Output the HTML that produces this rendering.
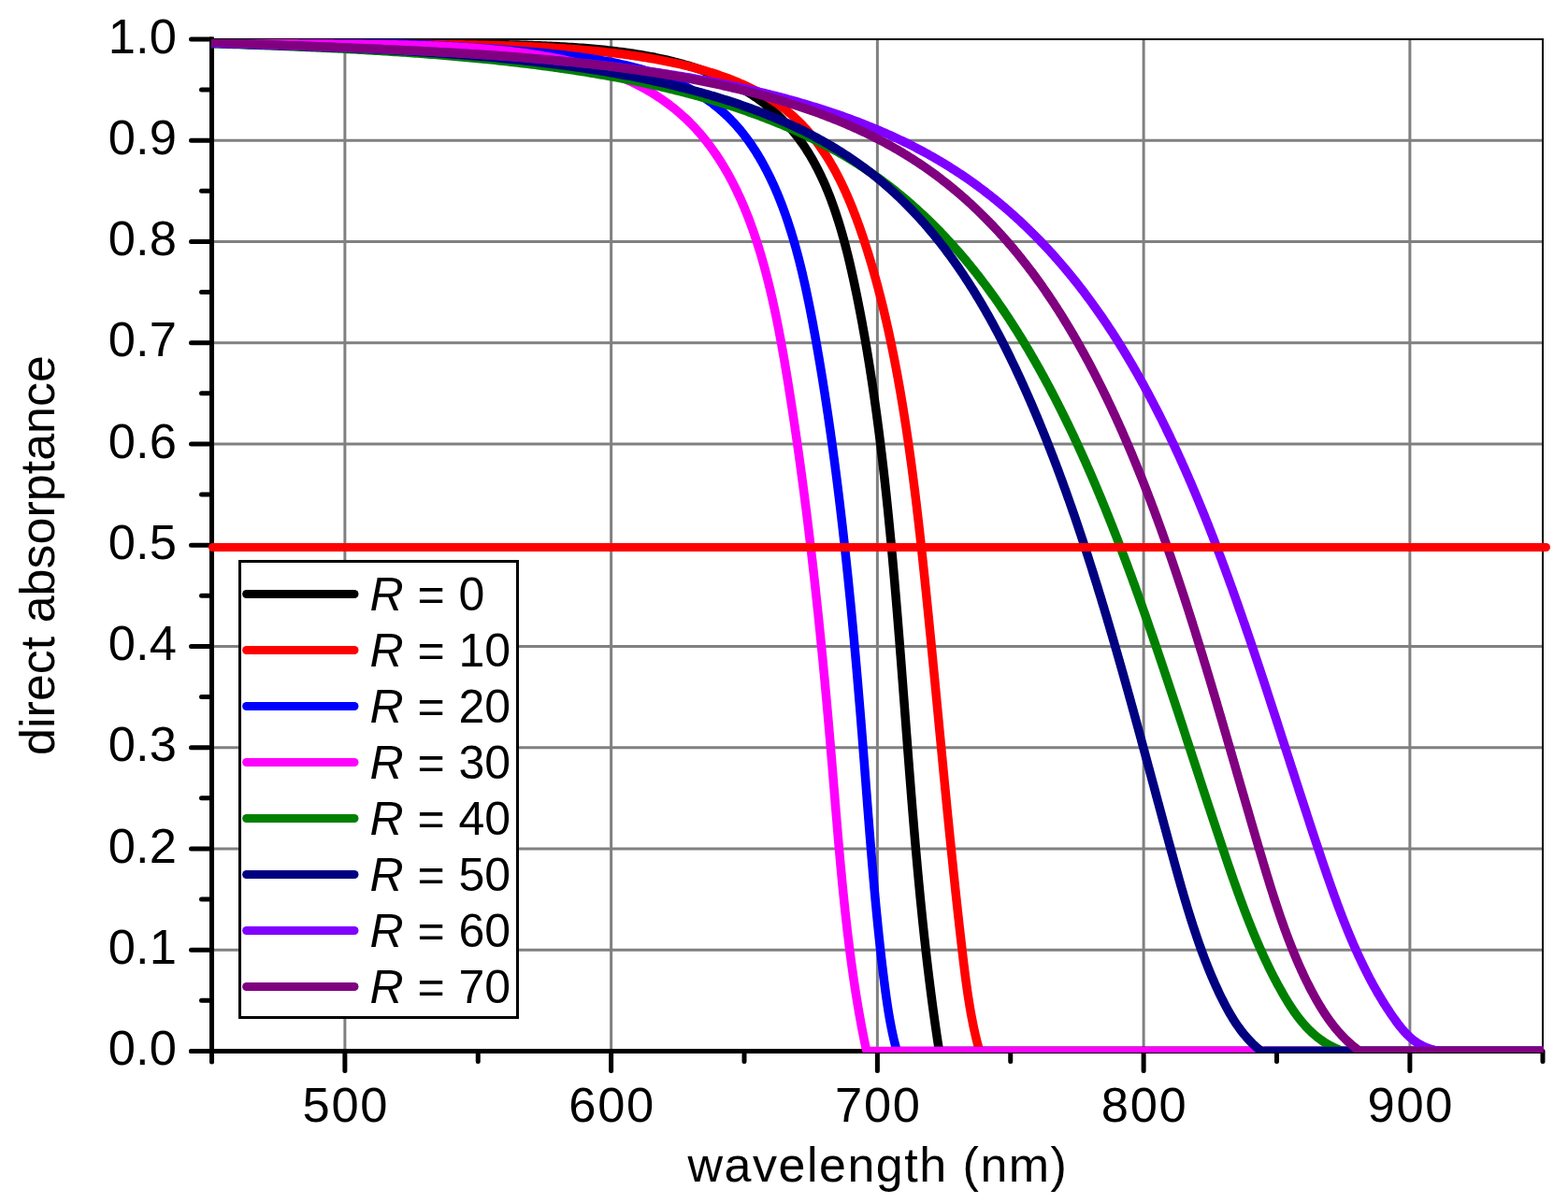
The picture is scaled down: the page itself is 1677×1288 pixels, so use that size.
<!DOCTYPE html><html><head><meta charset="utf-8"><style>html,body{margin:0;padding:0;background:#fff;}svg{display:block;}text{font-family:"Liberation Sans",Arial,sans-serif;fill:#000;}</style></head><body>
<svg width="1677" height="1288" viewBox="0 0 1677 1288">
<rect width="1677" height="1288" fill="#fff"/>
<path d="M368.88,43V1122M653.62,43V1122M938.38,43V1122M1223.12,43V1122M1507.88,43V1122M229,1016.16H1649M229,907.92H1649M229,799.68H1649M229,691.44H1649M229,583.20H1649M229,474.96H1649M229,366.72H1649M229,258.48H1649M229,150.24H1649" stroke="#808080" stroke-width="3" fill="none"/>
<path d="M226.5,42H1650V1127" stroke="#000" stroke-width="2" fill="none"/>
<path d="M226.5,39.5V1136M204.5,1124.5H1651" stroke="#000" stroke-width="5" fill="none"/>
<circle cx="226.5" cy="1136" r="2.5"/><circle cx="204.5" cy="1124.5" r="2.5"/>
<path d="M1650,1124.5V1135.5" stroke="#000" stroke-width="5" stroke-linecap="round" fill="none"/>
<path d="M204.5,1124.40H226.5M204.5,1016.16H226.5M204.5,907.92H226.5M204.5,799.68H226.5M204.5,691.44H226.5M204.5,583.20H226.5M204.5,474.96H226.5M204.5,366.72H226.5M204.5,258.48H226.5M204.5,150.24H226.5M204.5,42.00H226.5M215.5,1070.28H226.5M215.5,962.04H226.5M215.5,853.80H226.5M215.5,745.56H226.5M215.5,637.32H226.5M215.5,529.08H226.5M215.5,420.84H226.5M215.5,312.60H226.5M215.5,204.36H226.5M215.5,96.12H226.5M368.88,1124.5V1145.5M653.62,1124.5V1145.5M938.38,1124.5V1145.5M1223.12,1124.5V1145.5M1507.88,1124.5V1145.5M511.25,1124.5V1135.5M796.00,1124.5V1135.5M1080.75,1124.5V1135.5M1365.50,1124.5V1135.5" stroke="#000" stroke-width="5" fill="none" stroke-linecap="round"/>
<defs><clipPath id="pc"><rect x="226" y="42" width="1425" height="1084"/></clipPath></defs>
<g clip-path="url(#pc)" fill="none" stroke-width="9.5" stroke-linejoin="round" stroke-linecap="round">
<path d="M226.50,43.10L229.50,43.29L232.31,43.48L235.12,43.67L237.94,43.84L240.76,44.02L243.59,44.18L246.42,44.34L249.26,44.50L252.11,44.65L254.96,44.79L257.82,44.93L260.68,45.07L263.54,45.20L266.41,45.32L269.29,45.44L272.17,45.56L275.05,45.67L277.94,45.77L280.84,45.87L283.74,45.97L286.64,46.06L289.55,46.15L292.46,46.23L295.37,46.32L298.29,46.39L301.21,46.46L304.14,46.53L307.07,46.60L310.01,46.66L312.94,46.72L315.88,46.77L318.83,46.82L321.77,46.87L324.72,46.92L327.68,46.96L330.63,47.00L333.59,47.03L336.56,47.07L339.52,47.10L342.49,47.13L345.46,47.15L348.43,47.18L351.40,47.20L354.38,47.22L357.36,47.23L360.34,47.25L363.32,47.26L366.31,47.27L369.29,47.28L372.28,47.29L375.27,47.29L378.26,47.30L381.25,47.30L384.25,47.30L387.24,47.30L390.24,47.30L393.24,47.30L396.23,47.29L399.23,47.29L402.23,47.29L405.23,47.28L408.24,47.27L411.24,47.27L414.24,47.26L417.24,47.25L420.25,47.25L423.25,47.24L426.25,47.23L429.25,47.22L432.26,47.22L435.26,47.21L438.26,47.20L441.26,47.19L444.27,47.19L447.27,47.18L450.27,47.18L453.27,47.17L456.27,47.17L459.26,47.17L462.26,47.17L465.26,47.17L468.25,47.17L471.24,47.17L474.24,47.17L477.23,47.18L480.22,47.18L483.20,47.19L486.19,47.20L489.17,47.21L492.16,47.22L495.14,47.24L498.11,47.26L501.09,47.28L504.06,47.30L507.03,47.32L510.00,47.35L512.97,47.38L515.93,47.41L518.89,47.45L521.85,47.48L524.81,47.52L527.76,47.57L530.71,47.61L533.65,47.66L536.60,47.71L539.54,47.77L542.47,47.83L545.40,47.89L548.33,47.96L551.26,48.03L554.18,48.10L557.10,48.18L560.01,48.26L562.92,48.35L565.82,48.44L568.73,48.53L571.62,48.63L574.51,48.74L577.40,48.84L580.28,48.96L583.16,49.08L586.03,49.20L588.90,49.33L591.76,49.46L594.61,49.60L597.46,49.75L600.30,49.90L603.14,50.06L605.97,50.23L608.79,50.40L611.61,50.58L614.42,50.76L617.22,50.95L620.02,51.15L622.81,51.36L625.59,51.58L628.36,51.80L631.13,52.03L633.88,52.27L636.63,52.51L639.38,52.77L642.11,53.03L644.83,53.30L647.55,53.58L650.25,53.87L652.95,54.17L655.64,54.48L658.32,54.79L660.98,55.12L663.64,55.46L666.29,55.80L668.93,56.16L671.56,56.52L674.18,56.90L676.79,57.29L679.38,57.69L681.97,58.10L684.55,58.52L687.11,58.95L689.66,59.39L692.21,59.84L694.74,60.31L697.25,60.78L699.76,61.27L702.25,61.78L704.74,62.29L707.21,62.81L709.66,63.35L712.11,63.90L714.54,64.47L716.96,65.05L719.36,65.64L721.75,66.24L724.13,66.86L726.49,67.49L728.85,68.13L731.18,68.79L733.50,69.46L735.81,70.15L738.11,70.85L740.38,71.57L742.65,72.30L744.90,73.05L747.14,73.80L749.36,74.58L751.56,75.37L753.76,76.17L755.93,76.99L758.10,77.82L760.25,78.67L762.38,79.53L764.50,80.41L766.60,81.30L768.69,82.20L770.77,83.12L772.82,84.06L774.87,85.01L776.90,85.98L778.91,86.96L780.91,87.95L782.90,88.96L784.87,89.99L786.82,91.03L788.76,92.09L790.68,93.16L792.59,94.25L794.49,95.35L796.36,96.47L798.23,97.60L800.07,98.75L801.90,99.91L803.72,101.09L805.52,102.28L807.31,103.49L809.08,104.72L810.83,105.96L812.57,107.22L814.29,108.49L816.00,109.78L817.69,111.08L819.37,112.40L821.03,113.74L822.67,115.09L824.30,116.46L825.91,117.84L827.51,119.24L829.09,120.65L830.65,122.08L832.20,123.53L833.73,124.99L835.25,126.47L836.75,127.97L838.23,129.48L839.70,131.01L841.15,132.55L842.59,134.11L844.00,135.69L845.41,137.28L846.79,138.89L848.16,140.52L849.52,142.16L850.85,143.82L852.17,145.49L853.48,147.19L854.76,148.89L856.03,150.62L857.29,152.36L858.52,154.12L859.74,155.89L860.95,157.68L862.14,159.49L863.31,161.31L864.47,163.15L865.61,165.01L866.73,166.87L867.85,168.76L868.94,170.66L870.02,172.57L871.09,174.50L872.14,176.44L873.18,178.40L874.21,180.37L875.22,182.36L876.21,184.36L877.20,186.37L878.16,188.39L879.12,190.43L880.06,192.48L881.00,194.55L881.91,196.63L882.82,198.71L883.71,200.82L884.59,202.93L885.46,205.06L886.32,207.19L887.17,209.34L888.00,211.50L888.83,213.68L889.64,215.86L890.44,218.05L891.23,220.26L892.01,222.47L892.78,224.70L893.54,226.93L894.29,229.18L895.03,231.43L895.76,233.70L896.49,235.97L897.20,238.25L897.90,240.55L898.59,242.85L899.28,245.16L899.96,247.47L900.63,249.80L901.29,252.14L901.94,254.48L902.58,256.83L903.22,259.19L903.85,261.55L904.47,263.93L905.09,266.31L905.70,268.69L906.30,271.09L906.89,273.49L907.48,275.90L908.06,278.31L908.64,280.73L909.21,283.15L909.77,285.58L910.33,288.02L910.89,290.46L911.43,292.91L911.98,295.36L912.52,297.82L913.05,300.28L913.58,302.74L914.11,305.21L914.63,307.69L915.15,310.16L915.66,312.65L916.17,315.13L916.68,317.62L917.18,320.11L917.68,322.61L918.18,325.11L918.67,327.61L919.16,330.11L919.64,332.62L920.13,335.14L920.61,337.65L921.08,340.17L921.55,342.70L922.02,345.22L922.49,347.75L922.95,350.28L923.41,352.82L923.87,355.36L924.32,357.90L924.77,360.45L925.21,363.00L925.66,365.55L926.10,368.11L926.53,370.66L926.97,373.23L927.40,375.79L927.83,378.36L928.25,380.93L928.67,383.50L929.09,386.08L929.51,388.66L929.92,391.24L930.33,393.83L930.74,396.42L931.14,399.01L931.54,401.60L931.94,404.20L932.34,406.80L932.73,409.40L933.12,412.01L933.51,414.61L933.89,417.22L934.27,419.84L934.65,422.45L935.03,425.07L935.40,427.70L935.77,430.32L936.14,432.95L936.51,435.58L936.87,438.21L937.23,440.84L937.59,443.48L937.94,446.12L938.30,448.76L938.65,451.41L939.00,454.05L939.34,456.70L939.69,459.35L940.03,462.01L940.37,464.66L940.70,467.32L941.04,469.98L941.37,472.65L941.70,475.31L942.03,477.98L942.35,480.65L942.67,483.32L943.00,486.00L943.31,488.67L943.63,491.35L943.95,494.03L944.26,496.72L944.57,499.40L944.88,502.09L945.18,504.78L945.49,507.47L945.79,510.16L946.09,512.86L946.39,515.55L946.68,518.25L946.98,520.95L947.27,523.66L947.56,526.36L947.85,529.07L948.14,531.78L948.42,534.49L948.71,537.20L948.99,539.91L949.27,542.63L949.55,545.34L949.82,548.06L950.10,550.78L950.37,553.51L950.64,556.23L950.91,558.95L951.18,561.68L951.45,564.41L951.71,567.14L951.98,569.87L952.24,572.60L952.50,575.34L952.76,578.07L953.02,580.81L953.27,583.55L953.53,586.29L953.78,589.03L954.04,591.78L954.29,594.52L954.54,597.26L954.79,600.01L955.03,602.76L955.28,605.51L955.52,608.26L955.77,611.01L956.01,613.76L956.25,616.52L956.49,619.27L956.73,622.03L956.97,624.79L957.20,627.55L957.44,630.31L957.67,633.07L957.91,635.83L958.14,638.59L958.37,641.35L958.60,644.12L958.83,646.88L959.06,649.65L959.29,652.42L959.52,655.19L959.74,657.95L959.97,660.72L960.20,663.49L960.42,666.27L960.64,669.04L960.86,671.81L961.09,674.58L961.31,677.36L961.53,680.13L961.75,682.91L961.97,685.68L962.19,688.46L962.40,691.24L962.62,694.02L962.84,696.79L963.05,699.57L963.27,702.35L963.49,705.13L963.70,707.91L963.92,710.69L964.13,713.48L964.34,716.26L964.56,719.04L964.77,721.82L964.98,724.60L965.19,727.39L965.41,730.17L965.62,732.95L965.83,735.74L966.04,738.52L966.25,741.31L966.46,744.09L966.67,746.87L966.89,749.66L967.10,752.44L967.31,755.23L967.52,758.01L967.73,760.80L967.94,763.58L968.15,766.37L968.36,769.15L968.57,771.94L968.78,774.72L968.99,777.51L969.20,780.29L969.41,783.07L969.62,785.86L969.84,788.64L970.05,791.43L970.26,794.21L970.47,796.99L970.68,799.78L970.90,802.56L971.11,805.34L971.32,808.12L971.54,810.91L971.75,813.69L971.96,816.47L972.18,819.25L972.39,822.03L972.61,824.81L972.83,827.59L973.04,830.37L973.26,833.14L973.48,835.92L973.70,838.70L973.92,841.47L974.14,844.25L974.36,847.03L974.58,849.80L974.80,852.57L975.02,855.35L975.24,858.12L975.47,860.89L975.69,863.66L975.92,866.43L976.14,869.20L976.37,871.97L976.60,874.74L976.83,877.50L977.06,880.27L977.29,883.03L977.52,885.80L977.75,888.56L977.99,891.32L978.22,894.08L978.46,896.84L978.69,899.60L978.93,902.36L979.17,905.11L979.41,907.87L979.65,910.62L979.89,913.38L980.14,916.13L980.38,918.88L980.63,921.63L980.88,924.37L981.12,927.12L981.37,929.87L981.62,932.61L981.88,935.35L982.13,938.10L982.39,940.84L982.64,943.57L982.90,946.31L983.16,949.05L983.42,951.78L983.68,954.51L983.95,957.25L984.21,959.97L984.48,962.70L984.75,965.43L985.02,968.15L985.29,970.88L985.57,973.60L985.84,976.32L986.12,979.04L986.40,981.75L986.68,984.47L986.96,987.18L987.25,989.89L987.53,992.60L987.82,995.31L988.11,998.02L988.40,1000.72L988.69,1003.42L988.99,1006.12L989.29,1008.82L989.59,1011.52L989.89,1014.21L990.19,1016.90L990.50,1019.59L990.80,1022.28L991.11,1024.97L991.42,1027.65L991.74,1030.33L992.05,1033.01L992.37,1035.69L992.69,1038.36L993.01,1041.04L993.34,1043.71L993.66,1046.38L993.99,1049.04L994.32,1051.71L994.66,1054.37L994.99,1057.03L995.33,1059.68L995.67,1062.34L996.02,1064.99L996.36,1067.64L996.71,1070.29L997.06,1072.93L997.41,1075.58L997.77,1078.22L998.13,1080.85L998.49,1083.49L998.85,1086.12L999.22,1088.75L999.58,1091.38L999.96,1094.00L1000.33,1096.62L1000.71,1099.24L1001.08,1101.86L1001.47,1104.47L1001.85,1107.08L1002.24,1109.69L1002.63,1112.29L1003.02,1114.90L1003.42,1117.50L1003.82,1120.09L1004.22,1122.69L1005.50,1124.40L1020.00,1124.40L1660.00,1124.40" stroke="#000000"/>
<path d="M226.50,43.33L229.49,43.51L232.31,43.68L235.15,43.84L237.98,44.00L240.83,44.16L243.67,44.30L246.52,44.45L249.38,44.59L252.24,44.72L255.11,44.85L257.98,44.98L260.86,45.10L263.74,45.22L266.62,45.33L269.51,45.44L272.40,45.54L275.30,45.64L278.20,45.73L281.10,45.83L284.01,45.91L286.92,46.00L289.84,46.08L292.76,46.16L295.68,46.23L298.60,46.30L301.53,46.37L304.47,46.43L307.40,46.49L310.34,46.55L313.28,46.61L316.22,46.66L319.17,46.71L322.12,46.75L325.07,46.80L328.03,46.84L330.99,46.88L333.94,46.92L336.91,46.95L339.87,46.98L342.84,47.01L345.80,47.04L348.77,47.07L351.75,47.09L354.72,47.12L357.69,47.14L360.67,47.16L363.65,47.17L366.63,47.19L369.61,47.21L372.59,47.22L375.57,47.24L378.56,47.25L381.54,47.26L384.53,47.27L387.51,47.28L390.50,47.29L393.49,47.30L396.48,47.30L399.46,47.31L402.45,47.32L405.44,47.33L408.43,47.33L411.42,47.34L414.41,47.35L417.40,47.35L420.39,47.36L423.38,47.37L426.37,47.38L429.36,47.38L432.34,47.39L435.33,47.40L438.32,47.41L441.30,47.42L444.29,47.43L447.27,47.45L450.25,47.46L453.23,47.48L456.21,47.49L459.19,47.51L462.17,47.53L465.15,47.55L468.12,47.57L471.09,47.59L474.06,47.62L477.03,47.64L480.00,47.67L482.97,47.70L485.93,47.74L488.89,47.77L491.85,47.81L494.81,47.85L497.76,47.89L500.71,47.94L503.66,47.98L506.61,48.03L509.55,48.09L512.49,48.14L515.43,48.20L518.36,48.26L521.29,48.33L524.22,48.40L527.15,48.47L530.07,48.54L532.99,48.62L535.90,48.70L538.81,48.79L541.72,48.88L544.62,48.97L547.52,49.07L550.42,49.17L553.31,49.27L556.20,49.38L559.08,49.49L561.96,49.61L564.83,49.73L567.70,49.86L570.57,49.99L573.43,50.13L576.28,50.27L579.13,50.41L581.98,50.56L584.82,50.72L587.66,50.88L590.49,51.05L593.31,51.22L596.13,51.39L598.95,51.57L601.75,51.76L604.56,51.96L607.35,52.15L610.15,52.36L612.93,52.57L615.71,52.79L618.49,53.01L621.25,53.24L624.01,53.47L626.77,53.71L629.52,53.96L632.26,54.22L634.99,54.48L637.72,54.74L640.45,55.02L643.16,55.30L645.87,55.59L648.57,55.88L651.26,56.18L653.95,56.49L656.63,56.81L659.30,57.13L661.97,57.46L664.63,57.80L667.28,58.15L669.92,58.50L672.55,58.87L675.18,59.24L677.80,59.61L680.41,60.00L683.01,60.39L685.60,60.80L688.19,61.21L690.76,61.63L693.33,62.05L695.89,62.49L698.45,62.94L700.99,63.39L703.52,63.85L706.05,64.32L708.56,64.80L711.07,65.29L713.57,65.79L716.06,66.30L718.53,66.82L721.00,67.34L723.46,67.88L725.91,68.42L728.35,68.98L730.78,69.55L733.20,70.12L735.61,70.71L738.01,71.31L740.40,71.92L742.77,72.54L745.14,73.17L747.50,73.81L749.84,74.46L752.17,75.13L754.49,75.80L756.80,76.49L759.09,77.19L761.38,77.90L763.65,78.63L765.91,79.37L768.16,80.11L770.39,80.88L772.61,81.65L774.82,82.44L777.01,83.24L779.19,84.06L781.36,84.89L783.52,85.73L785.66,86.58L787.78,87.45L789.90,88.34L791.99,89.24L794.08,90.15L796.15,91.08L798.20,92.02L800.24,92.97L802.26,93.95L804.27,94.93L806.27,95.94L808.24,96.95L810.21,97.99L812.15,99.04L814.08,100.10L816.00,101.18L817.90,102.28L819.78,103.40L821.64,104.53L823.49,105.67L825.33,106.84L827.14,108.02L828.94,109.22L830.72,110.44L832.48,111.67L834.23,112.92L835.95,114.19L837.66,115.48L839.35,116.78L841.03,118.11L842.68,119.45L844.32,120.81L845.93,122.19L847.53,123.58L849.11,125.00L850.67,126.43L852.22,127.89L853.74,129.36L855.25,130.85L856.74,132.35L858.22,133.87L859.67,135.41L861.11,136.97L862.53,138.54L863.94,140.13L865.33,141.74L866.70,143.36L868.06,145.00L869.40,146.66L870.73,148.33L872.04,150.01L873.33,151.71L874.61,153.43L875.88,155.16L877.13,156.91L878.36,158.67L879.58,160.44L880.79,162.23L881.98,164.04L883.16,165.85L884.33,167.69L885.48,169.53L886.62,171.39L887.74,173.26L888.85,175.14L889.95,177.04L891.04,178.95L892.11,180.87L893.18,182.81L894.23,184.75L895.26,186.71L896.29,188.68L897.30,190.66L898.31,192.66L899.30,194.66L900.28,196.68L901.25,198.70L902.21,200.74L903.16,202.79L904.10,204.85L905.03,206.91L905.94,208.99L906.85,211.08L907.75,213.17L908.64,215.28L909.52,217.40L910.39,219.52L911.26,221.65L912.11,223.80L912.96,225.95L913.79,228.11L914.62,230.27L915.44,232.45L916.26,234.63L917.06,236.82L917.86,239.02L918.65,241.22L919.44,243.44L920.22,245.65L920.99,247.88L921.75,250.11L922.51,252.35L923.26,254.59L924.01,256.85L924.75,259.10L925.48,261.36L926.21,263.63L926.93,265.90L927.65,268.18L928.36,270.47L929.07,272.76L929.77,275.05L930.47,277.35L931.16,279.66L931.84,281.97L932.52,284.28L933.20,286.60L933.87,288.93L934.53,291.26L935.19,293.60L935.85,295.94L936.50,298.29L937.14,300.64L937.78,302.99L938.42,305.36L939.05,307.72L939.67,310.09L940.29,312.47L940.91,314.85L941.52,317.24L942.12,319.63L942.72,322.02L943.32,324.42L943.91,326.83L944.50,329.24L945.08,331.65L945.66,334.07L946.23,336.49L946.80,338.92L947.36,341.35L947.93,343.79L948.48,346.23L949.03,348.67L949.58,351.12L950.12,353.57L950.66,356.03L951.19,358.49L951.72,360.96L952.25,363.43L952.77,365.90L953.29,368.38L953.80,370.87L954.31,373.35L954.82,375.84L955.32,378.34L955.82,380.84L956.31,383.34L956.80,385.84L957.29,388.35L957.77,390.87L958.25,393.38L958.73,395.91L959.20,398.43L959.66,400.96L960.13,403.49L960.59,406.03L961.05,408.57L961.50,411.11L961.95,413.66L962.40,416.20L962.84,418.76L963.28,421.31L963.72,423.87L964.15,426.44L964.58,429.00L965.01,431.57L965.43,434.15L965.85,436.72L966.27,439.30L966.68,441.88L967.09,444.47L967.50,447.06L967.90,449.65L968.31,452.24L968.71,454.84L969.10,457.44L969.49,460.04L969.88,462.65L970.27,465.26L970.66,467.87L971.04,470.48L971.42,473.10L971.79,475.72L972.17,478.34L972.54,480.97L972.91,483.59L973.28,486.22L973.64,488.86L974.00,491.49L974.36,494.13L974.72,496.77L975.07,499.41L975.42,502.06L975.77,504.70L976.12,507.35L976.46,510.00L976.80,512.66L977.15,515.31L977.48,517.97L977.82,520.63L978.15,523.29L978.49,525.96L978.82,528.62L979.14,531.29L979.47,533.96L979.79,536.63L980.12,539.31L980.44,541.98L980.76,544.66L981.07,547.34L981.39,550.02L981.70,552.70L982.01,555.39L982.32,558.07L982.63,560.76L982.94,563.45L983.24,566.14L983.55,568.83L983.85,571.53L984.15,574.22L984.45,576.92L984.75,579.62L985.05,582.32L985.34,585.02L985.64,587.72L985.93,590.42L986.22,593.13L986.51,595.83L986.80,598.54L987.09,601.25L987.38,603.96L987.66,606.67L987.95,609.38L988.23,612.09L988.52,614.80L988.80,617.51L989.08,620.23L989.36,622.94L989.64,625.66L989.92,628.38L990.20,631.10L990.48,633.81L990.75,636.53L991.03,639.25L991.31,641.97L991.58,644.69L991.86,647.42L992.13,650.14L992.40,652.86L992.68,655.58L992.95,658.31L993.22,661.03L993.49,663.76L993.76,666.48L994.03,669.21L994.30,671.94L994.57,674.66L994.84,677.39L995.11,680.12L995.38,682.85L995.65,685.57L995.91,688.30L996.18,691.03L996.45,693.76L996.71,696.49L996.98,699.22L997.24,701.95L997.51,704.68L997.77,707.42L998.04,710.15L998.30,712.88L998.57,715.61L998.83,718.34L999.09,721.08L999.36,723.81L999.62,726.54L999.88,729.28L1000.15,732.01L1000.41,734.74L1000.67,737.48L1000.93,740.21L1001.20,742.95L1001.46,745.68L1001.72,748.41L1001.98,751.15L1002.24,753.88L1002.50,756.62L1002.77,759.35L1003.03,762.09L1003.29,764.82L1003.55,767.56L1003.81,770.29L1004.07,773.03L1004.33,775.76L1004.59,778.50L1004.86,781.23L1005.12,783.97L1005.38,786.70L1005.64,789.44L1005.90,792.17L1006.16,794.91L1006.42,797.64L1006.69,800.37L1006.95,803.11L1007.21,805.84L1007.47,808.58L1007.74,811.31L1008.00,814.04L1008.26,816.78L1008.52,819.51L1008.79,822.24L1009.05,824.98L1009.32,827.71L1009.58,830.44L1009.84,833.17L1010.11,835.90L1010.37,838.64L1010.64,841.37L1010.90,844.10L1011.17,846.83L1011.44,849.56L1011.70,852.29L1011.97,855.02L1012.24,857.74L1012.51,860.47L1012.77,863.20L1013.04,865.93L1013.31,868.66L1013.58,871.38L1013.85,874.11L1014.12,876.83L1014.39,879.56L1014.66,882.28L1014.94,885.01L1015.21,887.73L1015.48,890.46L1015.75,893.18L1016.03,895.90L1016.30,898.62L1016.58,901.34L1016.86,904.06L1017.13,906.78L1017.41,909.50L1017.69,912.22L1017.97,914.94L1018.24,917.65L1018.52,920.37L1018.80,923.09L1019.09,925.80L1019.37,928.52L1019.65,931.23L1019.93,933.94L1020.22,936.65L1020.50,939.36L1020.79,942.08L1021.08,944.78L1021.36,947.49L1021.65,950.20L1021.94,952.91L1022.23,955.62L1022.52,958.32L1022.81,961.03L1023.11,963.73L1023.40,966.43L1023.69,969.13L1023.99,971.83L1024.28,974.53L1024.58,977.23L1024.88,979.93L1025.18,982.63L1025.48,985.33L1025.78,988.02L1026.08,990.71L1026.38,993.41L1026.69,996.10L1026.99,998.79L1027.30,1001.48L1027.61,1004.17L1027.92,1006.86L1028.23,1009.54L1028.54,1012.23L1028.85,1014.91L1029.16,1017.60L1029.48,1020.28L1029.79,1022.96L1030.11,1025.64L1030.43,1028.31L1030.75,1030.99L1031.08,1033.66L1031.41,1036.32L1031.74,1038.98L1032.08,1041.64L1032.42,1044.30L1032.77,1046.95L1033.12,1049.59L1033.48,1052.23L1033.84,1054.86L1034.21,1057.49L1034.59,1060.11L1034.97,1062.72L1035.36,1065.33L1035.76,1067.93L1036.17,1070.52L1036.58,1073.10L1037.00,1075.67L1037.43,1078.24L1037.87,1080.80L1038.32,1083.34L1038.78,1085.88L1039.25,1088.41L1039.73,1090.93L1040.22,1093.43L1040.72,1095.93L1041.23,1098.41L1041.76,1100.88L1042.29,1103.34L1042.84,1105.79L1043.41,1108.22L1043.98,1110.64L1044.57,1113.05L1045.17,1115.44L1045.79,1117.82L1046.42,1120.19L1047.07,1122.54L1048.20,1124.40L1060.00,1124.40L1660.00,1124.40" stroke="#ff0000"/>
<path d="M226.50,44.00L229.53,43.97L232.55,43.95L235.57,43.93L238.58,43.91L241.60,43.89L244.61,43.87L247.62,43.86L250.63,43.85L253.64,43.83L256.65,43.83L259.65,43.82L262.65,43.81L265.65,43.81L268.65,43.81L271.65,43.81L274.64,43.81L277.64,43.82L280.63,43.83L283.62,43.83L286.60,43.84L289.59,43.86L292.57,43.87L295.55,43.89L298.53,43.91L301.51,43.93L304.48,43.95L307.46,43.97L310.43,44.00L313.40,44.03L316.36,44.06L319.33,44.09L322.29,44.13L325.25,44.16L328.21,44.20L331.17,44.24L334.12,44.28L337.07,44.33L340.02,44.38L342.97,44.43L345.92,44.48L348.86,44.53L351.80,44.59L354.74,44.64L357.68,44.70L360.62,44.76L363.55,44.83L366.48,44.89L369.41,44.96L372.34,45.03L375.26,45.11L378.19,45.18L381.11,45.26L384.02,45.34L386.94,45.42L389.85,45.50L392.77,45.59L395.67,45.67L398.58,45.77L401.49,45.86L404.39,45.95L407.29,46.05L410.19,46.15L413.08,46.25L415.98,46.35L418.87,46.46L421.76,46.57L424.64,46.68L427.53,46.79L430.41,46.91L433.29,47.03L436.17,47.15L439.04,47.27L441.91,47.39L444.78,47.52L447.65,47.65L450.52,47.78L453.38,47.92L456.24,48.05L459.10,48.19L461.96,48.33L464.81,48.48L467.66,48.62L470.51,48.77L473.36,48.92L476.20,49.08L479.04,49.23L481.88,49.39L484.72,49.55L487.55,49.71L490.38,49.88L493.21,50.05L496.04,50.22L498.86,50.39L501.68,50.57L504.50,50.75L507.32,50.93L510.13,51.11L512.94,51.30L515.75,51.48L518.56,51.68L521.36,51.87L524.17,52.06L526.96,52.26L529.76,52.46L532.55,52.67L535.34,52.88L538.13,53.08L540.92,53.30L543.70,53.51L546.48,53.73L549.26,53.95L552.04,54.17L554.81,54.39L557.58,54.62L560.34,54.85L563.11,55.08L565.87,55.32L568.63,55.56L571.38,55.80L574.13,56.05L576.88,56.30L579.62,56.55L582.36,56.81L585.10,57.08L587.82,57.35L590.55,57.62L593.26,57.90L595.98,58.19L598.68,58.48L601.38,58.78L604.07,59.08L606.76,59.39L609.44,59.71L612.11,60.04L614.77,60.37L617.43,60.71L620.07,61.06L622.71,61.42L625.34,61.79L627.96,62.17L630.58,62.55L633.18,62.95L635.77,63.35L638.35,63.77L640.92,64.19L643.49,64.63L646.04,65.07L648.58,65.53L651.11,66.00L653.62,66.48L656.13,66.97L658.62,67.48L661.10,67.99L663.57,68.52L666.03,69.07L668.47,69.62L670.90,70.19L673.31,70.77L675.71,71.37L678.10,71.98L680.47,72.60L682.83,73.24L685.17,73.90L687.50,74.57L689.81,75.25L692.11,75.95L694.39,76.67L696.65,77.40L698.90,78.15L701.13,78.92L703.35,79.70L705.55,80.49L707.74,81.31L709.91,82.13L712.06,82.98L714.19,83.84L716.31,84.72L718.42,85.61L720.50,86.52L722.58,87.45L724.63,88.39L726.67,89.35L728.69,90.33L730.69,91.32L732.68,92.33L734.65,93.36L736.60,94.40L738.54,95.47L740.46,96.54L742.36,97.64L744.24,98.75L746.11,99.88L747.96,101.03L749.80,102.19L751.61,103.37L753.41,104.57L755.19,105.79L756.95,107.02L758.70,108.27L760.43,109.54L762.14,110.83L763.83,112.14L765.50,113.46L767.16,114.80L768.80,116.16L770.42,117.53L772.02,118.93L773.61,120.34L775.18,121.77L776.73,123.22L778.26,124.68L779.77,126.17L781.27,127.67L782.74,129.19L784.20,130.73L785.65,132.28L787.07,133.85L788.48,135.44L789.87,137.05L791.25,138.67L792.61,140.31L793.95,141.96L795.27,143.64L796.58,145.32L797.88,147.03L799.16,148.75L800.42,150.48L801.67,152.23L802.90,153.99L804.12,155.77L805.32,157.56L806.51,159.37L807.69,161.19L808.85,163.03L810.00,164.88L811.13,166.74L812.25,168.62L813.36,170.51L814.45,172.42L815.53,174.33L816.60,176.26L817.66,178.20L818.70,180.16L819.73,182.12L820.75,184.10L821.76,186.09L822.75,188.10L823.73,190.11L824.70,192.14L825.66,194.18L826.61,196.22L827.55,198.28L828.47,200.36L829.39,202.44L830.29,204.53L831.19,206.64L832.07,208.75L832.94,210.88L833.80,213.01L834.65,215.16L835.49,217.32L836.32,219.48L837.14,221.66L837.95,223.85L838.76,226.04L839.55,228.25L840.33,230.47L841.10,232.69L841.87,234.92L842.62,237.17L843.37,239.42L844.10,241.68L844.83,243.95L845.55,246.23L846.26,248.51L846.96,250.81L847.66,253.11L848.34,255.42L849.02,257.74L849.69,260.07L850.36,262.40L851.01,264.74L851.66,267.09L852.30,269.45L852.93,271.81L853.56,274.18L854.18,276.56L854.79,278.95L855.40,281.34L856.00,283.74L856.59,286.14L857.18,288.55L857.76,290.97L858.33,293.39L858.90,295.82L859.46,298.26L860.02,300.70L860.57,303.14L861.11,305.59L861.65,308.05L862.19,310.51L862.72,312.98L863.24,315.45L863.76,317.93L864.28,320.41L864.79,322.90L865.30,325.39L865.80,327.89L866.30,330.39L866.79,332.89L867.28,335.40L867.76,337.91L868.25,340.43L868.73,342.94L869.20,345.47L869.67,347.99L870.14,350.52L870.60,353.05L871.07,355.59L871.53,358.13L871.98,360.67L872.44,363.21L872.89,365.76L873.34,368.31L873.78,370.86L874.23,373.41L874.67,375.96L875.11,378.52L875.55,381.08L875.98,383.64L876.42,386.21L876.85,388.77L877.28,391.34L877.70,393.91L878.13,396.49L878.55,399.06L878.97,401.64L879.39,404.22L879.81,406.80L880.22,409.38L880.63,411.97L881.04,414.56L881.45,417.15L881.85,419.74L882.26,422.33L882.66,424.93L883.06,427.53L883.45,430.13L883.85,432.73L884.24,435.33L884.63,437.94L885.02,440.55L885.41,443.16L885.79,445.77L886.18,448.38L886.56,451.00L886.94,453.62L887.31,456.24L887.69,458.86L888.06,461.49L888.43,464.11L888.80,466.74L889.17,469.37L889.54,472.00L889.90,474.63L890.26,477.27L890.62,479.91L890.98,482.55L891.34,485.19L891.69,487.83L892.05,490.47L892.40,493.12L892.75,495.77L893.09,498.42L893.44,501.07L893.78,503.72L894.13,506.38L894.47,509.03L894.81,511.69L895.14,514.35L895.48,517.01L895.81,519.68L896.14,522.34L896.47,525.01L896.80,527.68L897.13,530.35L897.46,533.02L897.78,535.69L898.10,538.37L898.42,541.05L898.74,543.72L899.06,546.40L899.38,549.08L899.69,551.77L900.00,554.45L900.31,557.14L900.62,559.83L900.93,562.51L901.24,565.21L901.54,567.90L901.85,570.59L902.15,573.29L902.45,575.98L902.75,578.68L903.05,581.38L903.35,584.08L903.64,586.78L903.93,589.49L904.23,592.19L904.52,594.90L904.81,597.61L905.10,600.31L905.38,603.03L905.67,605.74L905.95,608.45L906.24,611.16L906.52,613.88L906.80,616.60L907.08,619.32L907.35,622.04L907.63,624.76L907.90,627.48L908.18,630.20L908.45,632.93L908.72,635.65L908.99,638.38L909.26,641.11L909.53,643.84L909.80,646.57L910.06,649.30L910.33,652.03L910.59,654.77L910.85,657.50L911.11,660.24L911.37,662.98L911.63,665.72L911.89,668.46L912.14,671.20L912.40,673.94L912.65,676.68L912.91,679.43L913.16,682.17L913.41,684.92L913.66,687.67L913.91,690.41L914.16,693.16L914.40,695.91L914.65,698.67L914.89,701.42L915.14,704.17L915.38,706.93L915.62,709.68L915.87,712.44L916.11,715.19L916.34,717.95L916.58,720.71L916.82,723.47L917.06,726.23L917.29,728.99L917.53,731.75L917.76,734.52L918.00,737.28L918.23,740.05L918.46,742.81L918.69,745.58L918.92,748.35L919.15,751.11L919.38,753.88L919.61,756.65L919.83,759.42L920.06,762.19L920.29,764.97L920.51,767.74L920.74,770.51L920.96,773.29L921.18,776.06L921.40,778.84L921.62,781.61L921.85,784.39L922.07,787.17L922.28,789.94L922.50,792.72L922.72,795.50L922.94,798.28L923.16,801.06L923.37,803.84L923.59,806.62L923.80,809.41L924.02,812.19L924.23,814.97L924.45,817.75L924.66,820.54L924.88,823.32L925.09,826.10L925.30,828.89L925.52,831.67L925.73,834.46L925.94,837.24L926.15,840.03L926.37,842.81L926.58,845.59L926.79,848.38L927.01,851.16L927.22,853.95L927.43,856.73L927.65,859.51L927.86,862.30L928.08,865.08L928.29,867.86L928.51,870.64L928.72,873.43L928.94,876.21L929.16,878.99L929.37,881.77L929.59,884.55L929.81,887.32L930.03,890.10L930.25,892.88L930.47,895.66L930.69,898.43L930.92,901.20L931.14,903.98L931.37,906.75L931.59,909.52L931.82,912.29L932.05,915.06L932.28,917.83L932.51,920.60L932.74,923.36L932.97,926.13L933.21,928.89L933.44,931.65L933.68,934.41L933.92,937.17L934.16,939.93L934.40,942.68L934.64,945.44L934.89,948.19L935.13,950.94L935.38,953.69L935.63,956.44L935.88,959.18L936.14,961.93L936.39,964.67L936.65,967.41L936.91,970.15L937.17,972.88L937.43,975.62L937.70,978.35L937.97,981.08L938.24,983.81L938.51,986.53L938.78,989.25L939.06,991.97L939.34,994.69L939.62,997.41L939.90,1000.12L940.19,1002.83L940.48,1005.54L940.77,1008.25L941.06,1010.95L941.36,1013.65L941.66,1016.35L941.96,1019.05L942.26,1021.74L942.57,1024.43L942.88,1027.12L943.19,1029.80L943.51,1032.49L943.83,1035.16L944.15,1037.84L944.48,1040.51L944.80,1043.18L945.13,1045.85L945.47,1048.51L945.81,1051.17L946.15,1053.83L946.49,1056.48L946.84,1059.13L947.20,1061.77L947.56,1064.41L947.92,1067.04L948.30,1069.66L948.68,1072.28L949.07,1074.89L949.46,1077.49L949.87,1080.08L950.28,1082.66L950.71,1085.24L951.14,1087.80L951.59,1090.35L952.05,1092.89L952.52,1095.42L953.00,1097.93L953.49,1100.43L954.00,1102.92L954.53,1105.40L955.06,1107.85L955.62,1110.30L956.19,1112.73L956.77,1115.14L957.37,1117.53L957.99,1119.91L958.63,1122.27L959.50,1124.40L970.00,1124.40L1660.00,1124.40" stroke="#0000ff"/>
<path d="M226.50,44.70L229.17,44.83L232.04,44.96L234.92,45.08L237.80,45.19L240.69,45.30L243.58,45.41L246.48,45.51L249.38,45.61L252.29,45.70L255.20,45.79L258.11,45.87L261.03,45.95L263.95,46.02L266.88,46.10L269.81,46.16L272.74,46.23L275.68,46.29L278.62,46.35L281.56,46.40L284.51,46.45L287.46,46.50L290.41,46.55L293.36,46.59L296.32,46.63L299.28,46.67L302.24,46.71L305.21,46.74L308.17,46.78L311.14,46.81L314.11,46.83L317.08,46.86L320.05,46.89L323.03,46.91L326.00,46.93L328.98,46.96L331.96,46.98L334.93,47.00L337.91,47.02L340.89,47.04L343.87,47.05L346.85,47.07L349.83,47.09L352.81,47.11L355.79,47.12L358.77,47.14L361.75,47.16L364.73,47.18L367.71,47.20L370.69,47.22L373.67,47.24L376.64,47.26L379.62,47.28L382.59,47.31L385.57,47.33L388.54,47.36L391.51,47.39L394.48,47.42L397.44,47.45L400.41,47.48L403.37,47.52L406.33,47.56L409.29,47.60L412.24,47.64L415.19,47.69L418.14,47.74L421.09,47.79L424.03,47.84L426.97,47.90L429.91,47.96L432.85,48.02L435.78,48.09L438.70,48.16L441.63,48.24L444.55,48.32L447.46,48.40L450.37,48.49L453.28,48.58L456.18,48.68L459.08,48.78L461.97,48.88L464.86,48.99L467.74,49.11L470.62,49.23L473.49,49.35L476.36,49.48L479.22,49.62L482.08,49.76L484.93,49.91L487.78,50.06L490.62,50.22L493.45,50.38L496.28,50.55L499.10,50.73L501.91,50.92L504.72,51.11L507.52,51.30L510.31,51.51L513.10,51.72L515.88,51.94L518.65,52.16L521.42,52.40L524.18,52.64L526.93,52.88L529.67,53.14L532.40,53.40L535.13,53.67L537.85,53.95L540.56,54.24L543.26,54.54L545.95,54.84L548.64,55.16L551.31,55.48L553.98,55.81L556.64,56.15L559.29,56.50L561.93,56.86L564.56,57.23L567.18,57.61L569.79,57.99L572.39,58.39L574.98,58.80L577.56,59.21L580.13,59.64L582.69,60.08L585.24,60.53L587.78,60.99L590.31,61.46L592.83,61.94L595.33,62.43L597.83,62.93L600.31,63.44L602.79,63.97L605.25,64.50L607.70,65.05L610.14,65.61L612.56,66.18L614.98,66.77L617.38,67.36L619.77,67.97L622.15,68.59L624.52,69.22L626.87,69.87L629.21,70.53L631.54,71.20L633.85,71.88L636.15,72.58L638.44,73.29L640.71,74.01L642.97,74.75L645.22,75.50L647.45,76.27L649.67,77.05L651.88,77.84L654.07,78.64L656.25,79.47L658.41,80.30L660.56,81.15L662.69,82.02L664.81,82.90L666.91,83.79L669.00,84.70L671.08,85.62L673.13,86.56L675.18,87.52L677.20,88.49L679.22,89.48L681.22,90.48L683.20,91.49L685.16,92.52L687.12,93.57L689.05,94.63L690.98,95.71L692.88,96.80L694.77,97.90L696.65,99.03L698.51,100.16L700.36,101.31L702.19,102.48L704.00,103.66L705.81,104.86L707.59,106.07L709.36,107.30L711.12,108.55L712.86,109.80L714.58,111.08L716.29,112.37L717.98,113.67L719.66,114.99L721.33,116.32L722.98,117.67L724.61,119.04L726.23,120.42L727.83,121.81L729.42,123.22L730.99,124.65L732.55,126.09L734.09,127.55L735.62,129.02L737.13,130.50L738.63,132.00L740.11,133.52L741.58,135.05L743.03,136.59L744.47,138.15L745.89,139.73L747.30,141.31L748.70,142.92L750.08,144.53L751.45,146.16L752.80,147.81L754.14,149.47L755.47,151.14L756.78,152.82L758.08,154.52L759.37,156.23L760.64,157.96L761.90,159.70L763.15,161.45L764.38,163.21L765.60,164.99L766.81,166.78L768.01,168.58L769.19,170.40L770.36,172.23L771.52,174.07L772.66,175.92L773.80,177.78L774.92,179.66L776.03,181.55L777.12,183.45L778.21,185.36L779.28,187.29L780.35,189.22L781.40,191.17L782.44,193.13L783.47,195.10L784.48,197.08L785.49,199.07L786.48,201.07L787.47,203.09L788.44,205.11L789.40,207.15L790.36,209.19L791.30,211.25L792.23,213.32L793.15,215.40L794.06,217.48L794.96,219.58L795.85,221.69L796.73,223.81L797.60,225.93L798.46,228.07L799.31,230.22L800.16,232.37L800.99,234.54L801.81,236.71L802.63,238.90L803.43,241.09L804.23,243.29L805.02,245.50L805.79,247.72L806.56,249.95L807.32,252.19L808.08,254.43L808.82,256.69L809.56,258.95L810.29,261.22L811.00,263.50L811.72,265.79L812.42,268.08L813.12,270.38L813.80,272.69L814.48,275.01L815.16,277.33L815.82,279.67L816.48,282.01L817.13,284.35L817.78,286.71L818.41,289.07L819.04,291.44L819.67,293.81L820.28,296.19L820.89,298.58L821.50,300.98L822.10,303.38L822.69,305.78L823.27,308.20L823.85,310.62L824.42,313.04L824.99,315.47L825.55,317.91L826.10,320.36L826.65,322.80L827.20,325.26L827.74,327.72L828.27,330.18L828.80,332.65L829.32,335.13L829.84,337.61L830.35,340.09L830.86,342.58L831.36,345.08L831.86,347.58L832.36,350.08L832.85,352.59L833.33,355.10L833.81,357.62L834.29,360.14L834.76,362.67L835.23,365.19L835.70,367.73L836.16,370.26L836.62,372.80L837.07,375.35L837.52,377.89L837.97,380.44L838.42,383.00L838.86,385.55L839.30,388.11L839.73,390.68L840.16,393.24L840.59,395.81L841.02,398.38L841.45,400.95L841.87,403.53L842.29,406.11L842.71,408.69L843.12,411.27L843.54,413.85L843.95,416.44L844.36,419.03L844.77,421.62L845.17,424.21L845.58,426.80L845.98,429.40L846.38,432.00L846.78,434.59L847.18,437.19L847.58,439.79L847.97,442.40L848.37,445.00L848.76,447.61L849.15,450.22L849.54,452.83L849.92,455.44L850.31,458.05L850.69,460.66L851.08,463.28L851.46,465.90L851.84,468.52L852.21,471.14L852.59,473.76L852.96,476.38L853.34,479.01L853.71,481.63L854.08,484.26L854.45,486.89L854.81,489.52L855.18,492.16L855.54,494.79L855.90,497.43L856.27,500.06L856.62,502.70L856.98,505.34L857.34,507.99L857.69,510.63L858.05,513.27L858.40,515.92L858.75,518.57L859.10,521.22L859.45,523.87L859.79,526.52L860.14,529.17L860.48,531.83L860.82,534.48L861.16,537.14L861.50,539.80L861.84,542.46L862.18,545.12L862.51,547.78L862.85,550.45L863.18,553.11L863.51,555.78L863.84,558.45L864.17,561.12L864.49,563.79L864.82,566.46L865.14,569.14L865.47,571.81L865.79,574.49L866.11,577.17L866.43,579.85L866.75,582.53L867.06,585.21L867.38,587.89L867.69,590.58L868.00,593.26L868.31,595.95L868.62,598.64L868.93,601.33L869.24,604.02L869.55,606.71L869.85,609.40L870.16,612.10L870.46,614.79L870.76,617.49L871.06,620.19L871.36,622.89L871.66,625.59L871.95,628.29L872.25,630.99L872.54,633.70L872.83,636.40L873.13,639.11L873.42,641.82L873.71,644.52L873.99,647.23L874.28,649.95L874.57,652.66L874.85,655.37L875.14,658.09L875.42,660.80L875.70,663.52L875.98,666.24L876.26,668.95L876.54,671.67L876.81,674.40L877.09,677.12L877.36,679.84L877.64,682.57L877.91,685.29L878.18,688.02L878.45,690.75L878.72,693.47L878.99,696.20L879.26,698.93L879.52,701.67L879.79,704.40L880.05,707.13L880.32,709.87L880.58,712.60L880.84,715.34L881.10,718.08L881.36,720.82L881.62,723.56L881.88,726.30L882.13,729.04L882.39,731.78L882.64,734.53L882.90,737.27L883.15,740.02L883.40,742.76L883.65,745.51L883.90,748.26L884.15,751.01L884.40,753.76L884.64,756.51L884.89,759.26L885.14,762.01L885.38,764.77L885.62,767.52L885.87,770.28L886.11,773.03L886.35,775.79L886.59,778.55L886.83,781.31L887.07,784.07L887.30,786.83L887.54,789.59L887.78,792.35L888.01,795.12L888.24,797.88L888.48,800.65L888.71,803.41L888.94,806.18L889.17,808.95L889.40,811.71L889.63,814.48L889.86,817.25L890.09,820.02L890.32,822.79L890.55,825.56L890.78,828.33L891.00,831.10L891.23,833.87L891.46,836.64L891.68,839.41L891.91,842.18L892.14,844.96L892.37,847.73L892.59,850.50L892.82,853.27L893.05,856.04L893.28,858.81L893.51,861.58L893.73,864.35L893.96,867.12L894.19,869.88L894.42,872.65L894.65,875.42L894.89,878.19L895.12,880.95L895.35,883.72L895.59,886.48L895.82,889.24L896.06,892.01L896.29,894.77L896.53,897.53L896.77,900.29L897.01,903.04L897.25,905.80L897.50,908.56L897.74,911.31L897.98,914.06L898.23,916.81L898.48,919.56L898.73,922.31L898.98,925.06L899.23,927.80L899.49,930.55L899.75,933.29L900.00,936.03L900.26,938.77L900.53,941.50L900.79,944.24L901.06,946.97L901.33,949.70L901.60,952.43L901.87,955.15L902.14,957.87L902.42,960.59L902.70,963.31L902.98,966.03L903.27,968.74L903.55,971.45L903.84,974.16L904.14,976.87L904.43,979.57L904.73,982.27L905.03,984.97L905.33,987.66L905.64,990.36L905.95,993.05L906.26,995.73L906.58,998.41L906.89,1001.09L907.22,1003.77L907.54,1006.44L907.87,1009.11L908.20,1011.78L908.54,1014.44L908.87,1017.10L909.22,1019.76L909.56,1022.41L909.91,1025.06L910.26,1027.71L910.62,1030.35L910.98,1032.99L911.34,1035.62L911.71,1038.25L912.08,1040.88L912.46,1043.50L912.84,1046.12L913.22,1048.73L913.61,1051.34L914.00,1053.95L914.40,1056.55L914.80,1059.15L915.20,1061.74L915.61,1064.33L916.03,1066.91L916.45,1069.49L916.87,1072.07L917.30,1074.64L917.73,1077.20L918.17,1079.77L918.61,1082.32L919.06,1084.87L919.51,1087.42L919.97,1089.96L920.43,1092.50L920.89,1095.03L921.37,1097.55L921.84,1100.07L922.33,1102.59L922.81,1105.10L923.31,1107.61L923.81,1110.11L924.31,1112.60L924.82,1115.09L925.33,1117.57L925.85,1120.05L926.38,1122.52L927.50,1124.40L940.00,1124.40L1660.00,1124.40" stroke="#ff00ff"/>
<path d="M226.50,46.59L229.61,46.69L232.51,46.79L235.41,46.88L238.31,46.98L241.21,47.08L244.11,47.18L247.01,47.28L249.91,47.38L252.81,47.48L255.71,47.58L258.61,47.68L261.50,47.78L264.40,47.89L267.29,47.99L270.19,48.09L273.08,48.20L275.97,48.31L278.87,48.41L281.76,48.52L284.65,48.63L287.54,48.74L290.42,48.85L293.31,48.96L296.20,49.07L299.08,49.19L301.97,49.30L304.85,49.42L307.73,49.53L310.62,49.65L313.50,49.77L316.37,49.89L319.25,50.01L322.13,50.13L325.00,50.26L327.88,50.38L330.75,50.51L333.62,50.64L336.49,50.76L339.36,50.89L342.23,51.03L345.09,51.16L347.96,51.29L350.82,51.43L353.68,51.57L356.54,51.71L359.40,51.85L362.26,51.99L365.11,52.13L367.96,52.28L370.82,52.43L373.67,52.57L376.51,52.72L379.36,52.88L382.21,53.03L385.05,53.19L387.89,53.34L390.73,53.50L393.57,53.66L396.40,53.83L399.24,53.99L402.07,54.16L404.90,54.33L407.73,54.50L410.55,54.67L413.38,54.85L416.20,55.03L419.02,55.20L421.83,55.39L424.65,55.57L427.46,55.75L430.27,55.94L433.08,56.13L435.89,56.33L438.69,56.52L441.50,56.72L444.29,56.92L447.09,57.12L449.89,57.32L452.68,57.53L455.47,57.74L458.26,57.95L461.04,58.16L463.82,58.38L466.60,58.60L469.38,58.82L472.16,59.04L474.93,59.27L477.70,59.50L480.47,59.73L483.23,59.96L485.99,60.20L488.75,60.44L491.51,60.68L494.26,60.93L497.01,61.18L499.76,61.43L502.50,61.68L505.24,61.94L507.98,62.20L510.72,62.46L513.45,62.73L516.18,63.00L518.91,63.27L521.63,63.55L524.35,63.82L527.07,64.10L529.78,64.39L532.50,64.68L535.20,64.97L537.91,65.26L540.61,65.56L543.31,65.86L546.00,66.16L548.70,66.47L551.38,66.78L554.07,67.09L556.75,67.41L559.43,67.73L562.11,68.05L564.78,68.38L567.44,68.71L570.11,69.05L572.77,69.39L575.43,69.73L578.08,70.07L580.73,70.42L583.38,70.77L586.02,71.13L588.66,71.49L591.29,71.85L593.93,72.22L596.55,72.59L599.18,72.97L601.80,73.34L604.41,73.73L607.03,74.11L609.63,74.50L612.24,74.90L614.84,75.30L617.44,75.70L620.03,76.10L622.62,76.51L625.20,76.93L627.78,77.35L630.36,77.77L632.93,78.20L635.50,78.63L638.06,79.06L640.62,79.50L643.18,79.95L645.73,80.39L648.28,80.85L650.82,81.30L653.36,81.76L655.89,82.23L658.42,82.70L660.94,83.17L663.46,83.65L665.98,84.13L668.49,84.62L671.00,85.11L673.50,85.61L676.00,86.11L678.49,86.61L680.98,87.13L683.46,87.64L685.94,88.16L688.42,88.68L690.89,89.21L693.35,89.75L695.81,90.29L698.27,90.83L700.72,91.38L703.16,91.93L705.60,92.49L708.04,93.05L710.47,93.62L712.90,94.19L715.32,94.77L717.73,95.35L720.15,95.94L722.55,96.53L724.95,97.13L727.35,97.74L729.74,98.34L732.12,98.96L734.50,99.58L736.88,100.20L739.25,100.83L741.61,101.46L743.97,102.10L746.32,102.75L748.67,103.40L751.01,104.06L753.35,104.72L755.68,105.38L758.01,106.06L760.33,106.73L762.65,107.42L764.96,108.11L767.26,108.80L769.56,109.50L771.85,110.21L774.14,110.92L776.42,111.63L778.70,112.36L780.97,113.09L783.24,113.82L785.49,114.56L787.75,115.31L789.99,116.06L792.24,116.81L794.47,117.58L796.70,118.35L798.93,119.12L801.14,119.90L803.35,120.69L805.56,121.48L807.76,122.28L809.95,123.09L812.14,123.90L814.32,124.72L816.50,125.54L818.67,126.37L820.83,127.20L822.99,128.05L825.14,128.89L827.28,129.75L829.42,130.61L831.55,131.48L833.68,132.35L835.80,133.23L837.91,134.12L840.02,135.01L842.12,135.91L844.21,136.81L846.30,137.72L848.38,138.64L850.45,139.57L852.52,140.50L854.58,141.44L856.63,142.38L858.68,143.33L860.72,144.29L862.75,145.26L864.78,146.23L866.80,147.21L868.81,148.19L870.82,149.19L872.82,150.18L874.81,151.19L876.80,152.20L878.78,153.22L880.75,154.25L882.72,155.28L884.68,156.32L886.63,157.37L888.57,158.42L890.51,159.49L892.44,160.55L894.36,161.63L896.28,162.71L898.19,163.80L900.09,164.90L901.98,166.00L903.87,167.12L905.75,168.24L907.62,169.36L909.49,170.50L911.35,171.64L913.20,172.78L915.04,173.94L916.87,175.10L918.70,176.27L920.52,177.45L922.34,178.64L924.14,179.83L925.94,181.03L927.73,182.24L929.52,183.45L931.30,184.67L933.07,185.90L934.83,187.14L936.59,188.38L938.33,189.63L940.08,190.89L941.81,192.15L943.54,193.42L945.26,194.70L946.97,195.98L948.68,197.28L950.38,198.58L952.07,199.88L953.76,201.19L955.44,202.51L957.11,203.84L958.78,205.17L960.44,206.51L962.09,207.86L963.74,209.21L965.38,210.57L967.01,211.93L968.64,213.31L970.26,214.69L971.87,216.07L973.47,217.46L975.07,218.86L976.67,220.27L978.26,221.68L979.84,223.10L981.41,224.52L982.98,225.95L984.54,227.39L986.10,228.83L987.65,230.28L989.19,231.74L990.73,233.20L992.26,234.67L993.78,236.14L995.30,237.62L996.81,239.11L998.32,240.60L999.82,242.10L1001.31,243.61L1002.80,245.12L1004.28,246.63L1005.76,248.16L1007.23,249.68L1008.69,251.22L1010.15,252.76L1011.61,254.30L1013.05,255.86L1014.49,257.41L1015.93,258.98L1017.36,260.55L1018.78,262.12L1020.20,263.70L1021.62,265.29L1023.02,266.88L1024.42,268.48L1025.82,270.08L1027.21,271.69L1028.60,273.30L1029.98,274.92L1031.35,276.54L1032.72,278.17L1034.08,279.81L1035.44,281.45L1036.79,283.10L1038.14,284.75L1039.48,286.40L1040.82,288.06L1042.15,289.73L1043.48,291.40L1044.80,293.08L1046.12,294.76L1047.43,296.45L1048.73,298.14L1050.03,299.84L1051.33,301.55L1052.62,303.25L1053.91,304.97L1055.19,306.68L1056.47,308.41L1057.74,310.13L1059.00,311.87L1060.26,313.60L1061.52,315.35L1062.77,317.09L1064.02,318.84L1065.26,320.60L1066.50,322.36L1067.73,324.13L1068.96,325.90L1070.19,327.67L1071.41,329.45L1072.62,331.24L1073.83,333.02L1075.04,334.82L1076.24,336.61L1077.43,338.42L1078.63,340.22L1079.81,342.03L1081.00,343.85L1082.18,345.67L1083.35,347.49L1084.52,349.32L1085.69,351.15L1086.85,352.99L1088.01,354.83L1089.16,356.68L1090.31,358.53L1091.46,360.38L1092.60,362.24L1093.74,364.10L1094.87,365.96L1096.00,367.83L1097.13,369.71L1098.25,371.58L1099.36,373.46L1100.48,375.35L1101.59,377.24L1102.69,379.13L1103.79,381.03L1104.89,382.93L1105.99,384.83L1107.08,386.74L1108.16,388.65L1109.25,390.57L1110.33,392.49L1111.40,394.41L1112.48,396.34L1113.54,398.27L1114.61,400.20L1115.67,402.14L1116.73,404.08L1117.78,406.02L1118.84,407.97L1119.88,409.92L1120.93,411.88L1121.97,413.83L1123.01,415.80L1124.04,417.76L1125.07,419.73L1126.10,421.70L1127.13,423.67L1128.15,425.65L1129.17,427.63L1130.18,429.61L1131.19,431.60L1132.20,433.59L1133.21,435.58L1134.21,437.58L1135.21,439.58L1136.21,441.58L1137.20,443.59L1138.19,445.60L1139.18,447.61L1140.16,449.62L1141.14,451.64L1142.12,453.66L1143.10,455.68L1144.07,457.71L1145.04,459.74L1146.01,461.77L1146.97,463.80L1147.93,465.84L1148.89,467.88L1149.85,469.93L1150.80,471.97L1151.75,474.02L1152.69,476.07L1153.64,478.13L1154.58,480.18L1155.52,482.24L1156.46,484.31L1157.39,486.37L1158.32,488.44L1159.25,490.51L1160.18,492.58L1161.10,494.66L1162.02,496.74L1162.94,498.82L1163.85,500.90L1164.77,502.99L1165.68,505.08L1166.58,507.17L1167.49,509.26L1168.39,511.36L1169.29,513.45L1170.19,515.55L1171.09,517.66L1171.98,519.76L1172.87,521.87L1173.76,523.98L1174.65,526.09L1175.53,528.21L1176.41,530.33L1177.29,532.44L1178.17,534.57L1179.04,536.69L1179.92,538.82L1180.79,540.94L1181.66,543.07L1182.52,545.21L1183.39,547.34L1184.25,549.48L1185.11,551.62L1185.97,553.76L1186.82,555.90L1187.67,558.05L1188.53,560.19L1189.38,562.34L1190.22,564.49L1191.07,566.65L1191.91,568.80L1192.75,570.96L1193.59,573.12L1194.43,575.28L1195.27,577.44L1196.10,579.61L1196.93,581.77L1197.76,583.94L1198.59,586.11L1199.42,588.29L1200.24,590.46L1201.07,592.64L1201.89,594.81L1202.71,596.99L1203.53,599.17L1204.34,601.36L1205.16,603.54L1205.97,605.73L1206.78,607.91L1207.59,610.10L1208.40,612.29L1209.21,614.49L1210.01,616.68L1210.81,618.87L1211.62,621.07L1212.42,623.27L1213.22,625.47L1214.01,627.67L1214.81,629.87L1215.60,632.08L1216.40,634.28L1217.19,636.49L1217.98,638.70L1218.77,640.91L1219.55,643.12L1220.34,645.33L1221.12,647.55L1221.91,649.76L1222.69,651.98L1223.47,654.20L1224.25,656.42L1225.03,658.64L1225.81,660.86L1226.58,663.08L1227.36,665.31L1228.13,667.53L1228.90,669.76L1229.68,671.98L1230.45,674.21L1231.22,676.44L1231.98,678.67L1232.75,680.90L1233.52,683.14L1234.28,685.37L1235.05,687.61L1235.81,689.84L1236.57,692.08L1237.33,694.31L1238.09,696.55L1238.85,698.79L1239.61,701.03L1240.37,703.27L1241.13,705.52L1241.88,707.76L1242.64,710.00L1243.39,712.25L1244.15,714.49L1244.90,716.74L1245.65,718.98L1246.40,721.23L1247.15,723.48L1247.90,725.73L1248.65,727.98L1249.40,730.23L1250.15,732.48L1250.90,734.73L1251.64,736.98L1252.39,739.23L1253.14,741.49L1253.88,743.74L1254.63,746.00L1255.37,748.25L1256.11,750.50L1256.86,752.76L1257.60,755.02L1258.34,757.27L1259.08,759.53L1259.83,761.79L1260.57,764.04L1261.31,766.30L1262.05,768.56L1262.79,770.82L1263.53,773.08L1264.27,775.34L1265.01,777.60L1265.75,779.86L1266.48,782.12L1267.22,784.38L1267.96,786.64L1268.70,788.90L1269.44,791.16L1270.18,793.42L1270.91,795.68L1271.65,797.94L1272.39,800.20L1273.13,802.47L1273.86,804.73L1274.60,806.99L1275.34,809.25L1276.07,811.51L1276.81,813.77L1277.55,816.04L1278.29,818.30L1279.02,820.56L1279.76,822.82L1280.50,825.08L1281.24,827.34L1281.98,829.60L1282.71,831.86L1283.45,834.12L1284.19,836.38L1284.93,838.64L1285.67,840.90L1286.41,843.16L1287.15,845.42L1287.89,847.68L1288.63,849.94L1289.37,852.20L1290.11,854.46L1290.85,856.72L1291.59,858.97L1292.33,861.23L1293.07,863.49L1293.82,865.74L1294.56,868.00L1295.30,870.25L1296.05,872.51L1296.79,874.76L1297.54,877.02L1298.28,879.27L1299.03,881.52L1299.77,883.77L1300.52,886.03L1301.27,888.28L1302.02,890.53L1302.77,892.78L1303.52,895.03L1304.27,897.27L1305.02,899.52L1305.77,901.77L1306.52,904.01L1307.28,906.26L1308.03,908.50L1308.79,910.75L1309.54,912.99L1310.30,915.23L1311.06,917.47L1311.82,919.71L1312.58,921.95L1313.34,924.19L1314.10,926.42L1314.87,928.66L1315.64,930.89L1316.40,933.12L1317.18,935.35L1317.95,937.57L1318.72,939.80L1319.50,942.02L1320.28,944.24L1321.06,946.45L1321.85,948.67L1322.64,950.88L1323.43,953.09L1324.22,955.29L1325.02,957.49L1325.82,959.69L1326.62,961.89L1327.43,964.08L1328.24,966.27L1329.05,968.45L1329.87,970.64L1330.69,972.81L1331.51,974.99L1332.34,977.16L1333.18,979.32L1334.01,981.49L1334.85,983.64L1335.70,985.80L1336.55,987.94L1337.41,990.09L1338.27,992.23L1339.13,994.36L1340.00,996.49L1340.87,998.61L1341.75,1000.73L1342.64,1002.85L1343.53,1004.95L1344.43,1007.06L1345.33,1009.15L1346.24,1011.25L1347.15,1013.33L1348.07,1015.41L1348.99,1017.48L1349.93,1019.55L1350.86,1021.61L1351.81,1023.67L1352.76,1025.72L1353.71,1027.76L1354.68,1029.79L1355.65,1031.82L1356.63,1033.84L1357.61,1035.86L1358.60,1037.86L1359.60,1039.86L1360.61,1041.86L1361.62,1043.84L1362.64,1045.82L1363.67,1047.79L1364.71,1049.75L1365.75,1051.71L1366.80,1053.65L1367.86,1055.59L1368.93,1057.52L1370.01,1059.44L1371.09,1061.36L1372.19,1063.26L1373.29,1065.16L1374.40,1067.05L1375.52,1068.92L1376.66,1070.79L1377.80,1072.65L1378.96,1074.49L1380.13,1076.32L1381.31,1078.13L1382.51,1079.93L1383.73,1081.71L1384.96,1083.47L1386.22,1085.22L1387.49,1086.95L1388.78,1088.65L1390.09,1090.34L1391.43,1092.00L1392.78,1093.65L1394.16,1095.26L1395.57,1096.86L1397.00,1098.43L1398.46,1099.97L1399.94,1101.48L1401.45,1102.97L1402.99,1104.43L1404.56,1105.86L1406.17,1107.25L1407.80,1108.62L1409.47,1109.95L1411.17,1111.25L1412.90,1112.52L1414.67,1113.75L1416.47,1114.94L1418.32,1116.09L1420.20,1117.21L1422.12,1118.29L1424.08,1119.33L1426.08,1120.33L1428.12,1121.29L1430.20,1122.20L1432.33,1123.07L1434.50,1123.90L1436.72,1124.68L1440.00,1124.40L1660.00,1124.40" stroke="#008000"/>
<path d="M226.50,46.33L229.38,46.42L232.28,46.51L235.18,46.61L238.09,46.70L240.99,46.79L243.89,46.89L246.80,46.98L249.70,47.07L252.60,47.17L255.51,47.26L258.41,47.36L261.31,47.45L264.21,47.54L267.12,47.64L270.02,47.73L272.92,47.83L275.82,47.92L278.72,48.02L281.62,48.11L284.52,48.21L287.42,48.31L290.32,48.41L293.22,48.50L296.12,48.60L299.02,48.70L301.91,48.80L304.81,48.90L307.71,49.00L310.60,49.10L313.50,49.21L316.39,49.31L319.28,49.41L322.17,49.52L325.06,49.62L327.95,49.73L330.84,49.84L333.73,49.95L336.62,50.06L339.50,50.17L342.39,50.28L345.27,50.39L348.16,50.51L351.04,50.62L353.92,50.74L356.80,50.86L359.68,50.97L362.55,51.09L365.43,51.22L368.30,51.34L371.17,51.46L374.04,51.59L376.91,51.72L379.78,51.84L382.65,51.98L385.51,52.11L388.38,52.24L391.24,52.38L394.10,52.51L396.96,52.65L399.81,52.79L402.67,52.93L405.52,53.07L408.37,53.22L411.22,53.37L414.07,53.52L416.92,53.67L419.76,53.82L422.60,53.97L425.44,54.13L428.28,54.29L431.12,54.45L433.95,54.61L436.78,54.78L439.61,54.95L442.44,55.12L445.26,55.29L448.09,55.46L450.91,55.64L453.73,55.82L456.54,56.00L459.35,56.18L462.17,56.37L464.97,56.56L467.78,56.75L470.58,56.94L473.38,57.13L476.18,57.33L478.98,57.53L481.77,57.74L484.56,57.94L487.35,58.15L490.14,58.36L492.92,58.58L495.70,58.80L498.47,59.02L501.25,59.24L504.02,59.47L506.79,59.69L509.55,59.93L512.31,60.16L515.07,60.40L517.83,60.64L520.58,60.88L523.33,61.13L526.08,61.38L528.82,61.63L531.56,61.89L534.30,62.15L537.03,62.41L539.76,62.68L542.49,62.95L545.21,63.22L547.93,63.50L550.65,63.78L553.36,64.06L556.07,64.35L558.78,64.64L561.48,64.94L564.18,65.23L566.87,65.54L569.56,65.84L572.25,66.15L574.94,66.46L577.62,66.78L580.29,67.10L582.97,67.42L585.64,67.75L588.30,68.08L590.96,68.42L593.62,68.76L596.27,69.10L598.92,69.45L601.57,69.80L604.21,70.16L606.84,70.52L609.48,70.88L612.10,71.25L614.73,71.62L617.35,72.00L619.96,72.38L622.58,72.76L625.18,73.15L627.78,73.55L630.38,73.95L632.98,74.35L635.57,74.76L638.15,75.17L640.73,75.59L643.31,76.01L645.88,76.43L648.44,76.86L651.01,77.30L653.56,77.74L656.12,78.18L658.66,78.63L661.21,79.08L663.74,79.54L666.28,80.01L668.81,80.48L671.33,80.95L673.85,81.43L676.36,81.91L678.87,82.40L681.37,82.89L683.87,83.39L686.36,83.90L688.85,84.40L691.33,84.92L693.81,85.44L696.28,85.96L698.75,86.49L701.21,87.03L703.67,87.57L706.12,88.11L708.57,88.66L711.01,89.22L713.44,89.78L715.87,90.35L718.29,90.92L720.71,91.50L723.12,92.09L725.53,92.68L727.93,93.27L730.33,93.87L732.72,94.48L735.10,95.09L737.48,95.71L739.85,96.34L742.22,96.97L744.58,97.60L746.93,98.24L749.28,98.89L751.62,99.55L753.96,100.21L756.29,100.87L758.62,101.54L760.94,102.22L763.25,102.91L765.55,103.60L767.85,104.29L770.15,105.00L772.43,105.71L774.72,106.42L776.99,107.14L779.26,107.87L781.52,108.61L783.78,109.35L786.03,110.10L788.27,110.85L790.50,111.61L792.73,112.38L794.96,113.15L797.17,113.93L799.38,114.72L801.59,115.51L803.78,116.31L805.97,117.12L808.15,117.93L810.33,118.76L812.50,119.58L814.66,120.42L816.82,121.26L818.97,122.11L821.11,122.96L823.24,123.83L825.37,124.70L827.49,125.57L829.60,126.46L831.71,127.35L833.81,128.24L835.90,129.15L837.98,130.06L840.06,130.98L842.13,131.91L844.19,132.84L846.25,133.78L848.29,134.73L850.33,135.69L852.37,136.65L854.39,137.63L856.41,138.60L858.42,139.59L860.42,140.59L862.42,141.59L864.40,142.60L866.38,143.61L868.36,144.64L870.32,145.67L872.28,146.71L874.22,147.76L876.17,148.82L878.10,149.88L880.02,150.95L881.94,152.03L883.85,153.12L885.75,154.22L887.64,155.32L889.53,156.43L891.40,157.55L893.27,158.68L895.13,159.82L896.99,160.96L898.83,162.11L900.67,163.27L902.49,164.44L904.31,165.62L906.12,166.81L907.93,168.00L909.72,169.20L911.50,170.41L913.28,171.63L915.05,172.86L916.81,174.10L918.56,175.35L920.30,176.60L922.04,177.86L923.76,179.13L925.48,180.41L927.19,181.70L928.89,183.00L930.58,184.30L932.26,185.62L933.94,186.94L935.61,188.27L937.26,189.61L938.91,190.95L940.56,192.31L942.19,193.67L943.82,195.04L945.43,196.42L947.04,197.81L948.64,199.20L950.24,200.61L951.82,202.02L953.40,203.44L954.97,204.86L956.53,206.30L958.09,207.74L959.64,209.19L961.18,210.65L962.71,212.11L964.23,213.58L965.75,215.06L967.26,216.55L968.76,218.05L970.25,219.55L971.74,221.06L973.22,222.58L974.69,224.10L976.16,225.63L977.61,227.17L979.06,228.72L980.51,230.27L981.94,231.83L983.37,233.40L984.80,234.97L986.21,236.56L987.62,238.14L989.02,239.74L990.42,241.34L991.80,242.95L993.18,244.57L994.56,246.19L995.93,247.82L997.29,249.45L998.64,251.10L999.99,252.75L1001.33,254.40L1002.66,256.06L1003.99,257.73L1005.31,259.41L1006.63,261.09L1007.94,262.78L1009.24,264.47L1010.54,266.17L1011.83,267.88L1013.11,269.59L1014.39,271.31L1015.66,273.03L1016.93,274.77L1018.18,276.50L1019.44,278.25L1020.69,280.00L1021.93,281.75L1023.16,283.51L1024.39,285.28L1025.62,287.05L1026.84,288.83L1028.05,290.61L1029.26,292.40L1030.46,294.20L1031.65,296.00L1032.84,297.81L1034.03,299.62L1035.21,301.43L1036.38,303.26L1037.55,305.09L1038.71,306.92L1039.87,308.76L1041.02,310.60L1042.17,312.45L1043.31,314.31L1044.45,316.17L1045.58,318.03L1046.71,319.90L1047.83,321.78L1048.95,323.66L1050.06,325.54L1051.17,327.43L1052.27,329.33L1053.37,331.22L1054.46,333.13L1055.55,335.04L1056.63,336.95L1057.71,338.87L1058.78,340.79L1059.85,342.72L1060.91,344.65L1061.97,346.59L1063.03,348.53L1064.08,350.48L1065.13,352.43L1066.17,354.38L1067.21,356.34L1068.24,358.30L1069.27,360.27L1070.30,362.24L1071.32,364.22L1072.33,366.20L1073.35,368.18L1074.35,370.17L1075.36,372.16L1076.36,374.16L1077.36,376.16L1078.35,378.16L1079.34,380.17L1080.33,382.18L1081.31,384.20L1082.28,386.21L1083.26,388.24L1084.23,390.26L1085.20,392.29L1086.16,394.33L1087.12,396.36L1088.08,398.40L1089.03,400.45L1089.98,402.49L1090.92,404.54L1091.87,406.60L1092.81,408.66L1093.74,410.72L1094.68,412.78L1095.61,414.85L1096.53,416.92L1097.46,418.99L1098.38,421.07L1099.30,423.14L1100.21,425.23L1101.12,427.31L1102.03,429.40L1102.94,431.49L1103.84,433.58L1104.74,435.68L1105.64,437.78L1106.53,439.88L1107.42,441.99L1108.31,444.10L1109.20,446.21L1110.08,448.32L1110.96,450.44L1111.84,452.56L1112.71,454.68L1113.58,456.81L1114.45,458.93L1115.32,461.06L1116.18,463.20L1117.04,465.33L1117.90,467.47L1118.75,469.61L1119.61,471.76L1120.46,473.90L1121.30,476.05L1122.15,478.21L1122.99,480.36L1123.83,482.52L1124.67,484.68L1125.50,486.84L1126.34,489.00L1127.16,491.17L1127.99,493.34L1128.82,495.51L1129.64,497.69L1130.46,499.86L1131.28,502.04L1132.09,504.23L1132.90,506.41L1133.71,508.60L1134.52,510.79L1135.33,512.98L1136.13,515.17L1136.93,517.37L1137.73,519.56L1138.53,521.76L1139.32,523.97L1140.11,526.17L1140.90,528.38L1141.69,530.59L1142.47,532.80L1143.26,535.01L1144.04,537.23L1144.82,539.45L1145.59,541.67L1146.37,543.89L1147.14,546.12L1147.91,548.34L1148.68,550.57L1149.44,552.80L1150.21,555.03L1150.97,557.27L1151.73,559.51L1152.49,561.75L1153.24,563.99L1154.00,566.23L1154.75,568.47L1155.50,570.72L1156.25,572.97L1156.99,575.22L1157.74,577.47L1158.48,579.73L1159.22,581.98L1159.96,584.24L1160.70,586.50L1161.43,588.76L1162.17,591.02L1162.90,593.29L1163.63,595.55L1164.36,597.82L1165.08,600.09L1165.81,602.37L1166.53,604.64L1167.25,606.91L1167.97,609.19L1168.69,611.47L1169.41,613.75L1170.12,616.03L1170.84,618.31L1171.55,620.60L1172.26,622.89L1172.97,625.17L1173.67,627.46L1174.38,629.75L1175.08,632.05L1175.79,634.34L1176.49,636.64L1177.19,638.93L1177.89,641.23L1178.58,643.53L1179.28,645.83L1179.97,648.14L1180.67,650.44L1181.36,652.74L1182.05,655.05L1182.74,657.36L1183.42,659.67L1184.11,661.98L1184.79,664.29L1185.48,666.60L1186.16,668.92L1186.84,671.23L1187.52,673.55L1188.20,675.87L1188.88,678.19L1189.56,680.51L1190.23,682.83L1190.90,685.15L1191.58,687.47L1192.25,689.80L1192.92,692.12L1193.59,694.45L1194.26,696.78L1194.93,699.11L1195.59,701.44L1196.26,703.77L1196.93,706.10L1197.59,708.43L1198.25,710.77L1198.91,713.10L1199.58,715.44L1200.24,717.77L1200.90,720.11L1201.55,722.45L1202.21,724.79L1202.87,727.13L1203.52,729.47L1204.18,731.81L1204.83,734.15L1205.49,736.50L1206.14,738.84L1206.79,741.18L1207.44,743.53L1208.09,745.88L1208.74,748.22L1209.39,750.57L1210.04,752.92L1210.69,755.27L1211.34,757.62L1211.98,759.97L1212.63,762.32L1213.28,764.67L1213.92,767.02L1214.57,769.37L1215.21,771.72L1215.85,774.08L1216.50,776.43L1217.14,778.79L1217.78,781.14L1218.42,783.50L1219.06,785.85L1219.70,788.21L1220.34,790.56L1220.98,792.92L1221.62,795.28L1222.26,797.64L1222.90,799.99L1223.54,802.35L1224.18,804.71L1224.82,807.07L1225.45,809.43L1226.09,811.79L1226.73,814.15L1227.37,816.51L1228.00,818.87L1228.64,821.23L1229.28,823.59L1229.91,825.95L1230.55,828.31L1231.18,830.67L1231.82,833.03L1232.46,835.39L1233.09,837.75L1233.73,840.11L1234.36,842.47L1235.00,844.84L1235.63,847.20L1236.27,849.56L1236.90,851.92L1237.54,854.28L1238.18,856.64L1238.81,859.00L1239.45,861.36L1240.08,863.73L1240.72,866.09L1241.35,868.45L1241.99,870.81L1242.63,873.17L1243.26,875.53L1243.90,877.89L1244.54,880.25L1245.17,882.61L1245.81,884.97L1246.45,887.33L1247.09,889.68L1247.73,892.04L1248.36,894.40L1249.00,896.76L1249.64,899.12L1250.28,901.47L1250.92,903.83L1251.56,906.19L1252.20,908.54L1252.84,910.90L1253.48,913.25L1254.13,915.61L1254.77,917.96L1255.41,920.31L1256.06,922.67L1256.71,925.02L1257.35,927.37L1258.00,929.71L1258.65,932.06L1259.31,934.40L1259.96,936.75L1260.62,939.09L1261.28,941.42L1261.94,943.76L1262.60,946.09L1263.26,948.43L1263.93,950.75L1264.60,953.08L1265.28,955.40L1265.95,957.72L1266.63,960.04L1267.32,962.36L1268.00,964.67L1268.69,966.97L1269.38,969.28L1270.08,971.58L1270.78,973.87L1271.49,976.17L1272.19,978.45L1272.91,980.74L1273.62,983.02L1274.35,985.29L1275.07,987.56L1275.80,989.83L1276.54,992.09L1277.28,994.35L1278.03,996.60L1278.78,998.84L1279.53,1001.08L1280.29,1003.32L1281.06,1005.55L1281.83,1007.77L1282.61,1009.99L1283.40,1012.20L1284.19,1014.41L1284.99,1016.61L1285.79,1018.80L1286.60,1020.99L1287.42,1023.17L1288.24,1025.34L1289.07,1027.51L1289.90,1029.67L1290.75,1031.82L1291.60,1033.97L1292.46,1036.10L1293.32,1038.24L1294.20,1040.36L1295.08,1042.47L1295.97,1044.58L1296.86,1046.68L1297.77,1048.77L1298.68,1050.86L1299.60,1052.93L1300.53,1055.00L1301.47,1057.06L1302.42,1059.11L1303.38,1061.15L1304.34,1063.18L1305.31,1065.20L1306.30,1067.22L1307.29,1069.22L1308.30,1071.21L1309.31,1073.19L1310.34,1075.16L1311.38,1077.12L1312.43,1079.06L1313.50,1080.99L1314.58,1082.91L1315.68,1084.81L1316.79,1086.69L1317.92,1088.56L1319.07,1090.41L1320.23,1092.24L1321.42,1094.05L1322.62,1095.84L1323.85,1097.62L1325.09,1099.37L1326.35,1101.10L1327.64,1102.81L1328.95,1104.50L1330.28,1106.16L1331.64,1107.80L1333.02,1109.42L1334.43,1111.01L1335.86,1112.57L1337.32,1114.11L1338.81,1115.62L1340.32,1117.10L1341.87,1118.55L1343.44,1119.97L1345.04,1121.37L1346.68,1122.73L1348.34,1124.06L1350.04,1125.36L1354.00,1124.40L1660.00,1124.40" stroke="#000080"/>
<path d="M226.50,45.99L229.40,46.10L232.30,46.20L235.20,46.30L238.09,46.40L240.99,46.51L243.89,46.61L246.79,46.71L249.69,46.81L252.59,46.91L255.48,47.01L258.38,47.12L261.28,47.22L264.18,47.32L267.08,47.42L269.98,47.52L272.88,47.62L275.78,47.72L278.68,47.82L281.58,47.92L284.48,48.02L287.38,48.12L290.28,48.22L293.18,48.32L296.08,48.42L298.98,48.52L301.88,48.62L304.78,48.72L307.67,48.82L310.57,48.92L313.47,49.03L316.37,49.13L319.27,49.23L322.16,49.33L325.06,49.44L327.96,49.54L330.85,49.64L333.75,49.75L336.64,49.85L339.54,49.96L342.43,50.06L345.32,50.17L348.22,50.28L351.11,50.39L354.00,50.49L356.89,50.60L359.78,50.71L362.67,50.82L365.56,50.93L368.45,51.05L371.33,51.16L374.22,51.27L377.11,51.39L379.99,51.50L382.88,51.62L385.76,51.74L388.64,51.85L391.52,51.97L394.40,52.09L397.28,52.21L400.16,52.33L403.03,52.46L405.91,52.58L408.79,52.71L411.66,52.83L414.53,52.96L417.40,53.09L420.27,53.22L423.14,53.35L426.01,53.48L428.87,53.62L431.74,53.75L434.60,53.89L437.47,54.03L440.33,54.16L443.19,54.31L446.04,54.45L448.90,54.59L451.75,54.74L454.61,54.88L457.46,55.03L460.31,55.18L463.16,55.33L466.01,55.48L468.85,55.64L471.70,55.79L474.54,55.95L477.38,56.11L480.22,56.27L483.05,56.43L485.89,56.60L488.72,56.77L491.55,56.93L494.38,57.10L497.21,57.28L500.04,57.45L502.86,57.63L505.68,57.80L508.50,57.98L511.32,58.17L514.14,58.35L516.95,58.54L519.76,58.73L522.57,58.92L525.38,59.11L528.18,59.30L530.99,59.50L533.79,59.70L536.59,59.90L539.38,60.10L542.18,60.31L544.97,60.52L547.76,60.73L550.55,60.94L553.33,61.16L556.11,61.37L558.89,61.59L561.67,61.82L564.44,62.04L567.22,62.27L569.99,62.50L572.75,62.73L575.52,62.97L578.28,63.21L581.04,63.45L583.79,63.69L586.55,63.94L589.30,64.18L592.05,64.44L594.79,64.69L597.54,64.95L600.28,65.21L603.01,65.47L605.75,65.74L608.48,66.00L611.21,66.28L613.93,66.55L616.66,66.83L619.38,67.11L622.09,67.39L624.80,67.68L627.52,67.97L630.22,68.26L632.93,68.56L635.63,68.85L638.33,69.16L641.02,69.46L643.71,69.77L646.40,70.08L649.08,70.40L651.77,70.72L654.44,71.04L657.12,71.36L659.79,71.69L662.46,72.02L665.12,72.36L667.78,72.70L670.44,73.04L673.10,73.38L675.75,73.73L678.39,74.09L681.04,74.44L683.68,74.80L686.31,75.17L688.95,75.53L691.57,75.90L694.20,76.28L696.82,76.66L699.44,77.04L702.05,77.43L704.66,77.82L707.27,78.21L709.87,78.61L712.47,79.01L715.07,79.41L717.66,79.82L720.24,80.23L722.83,80.65L725.40,81.07L727.98,81.50L730.55,81.93L733.12,82.36L735.68,82.80L738.24,83.24L740.79,83.69L743.34,84.14L745.89,84.59L748.43,85.05L750.97,85.51L753.50,85.98L756.03,86.45L758.55,86.92L761.07,87.40L763.59,87.89L766.10,88.38L768.61,88.87L771.11,89.37L773.61,89.87L776.10,90.38L778.59,90.89L781.07,91.40L783.55,91.92L786.03,92.45L788.50,92.98L790.96,93.51L793.42,94.05L795.88,94.59L798.33,95.14L800.78,95.69L803.22,96.25L805.66,96.82L808.09,97.38L810.52,97.96L812.94,98.53L815.36,99.11L817.77,99.70L820.18,100.29L822.58,100.89L824.98,101.49L827.37,102.10L829.76,102.71L832.14,103.33L834.52,103.95L836.89,104.58L839.26,105.21L841.62,105.85L843.98,106.49L846.33,107.14L848.68,107.80L851.02,108.45L853.35,109.12L855.68,109.79L858.01,110.46L860.33,111.14L862.64,111.83L864.95,112.52L867.25,113.22L869.55,113.92L871.84,114.63L874.13,115.34L876.41,116.06L878.69,116.78L880.96,117.51L883.22,118.25L885.48,118.99L887.73,119.74L889.98,120.49L892.22,121.25L894.46,122.01L896.68,122.78L898.91,123.56L901.13,124.34L903.34,125.13L905.55,125.92L907.75,126.72L909.94,127.53L912.13,128.34L914.31,129.16L916.49,129.98L918.66,130.81L920.82,131.65L922.98,132.49L925.13,133.34L927.28,134.19L929.42,135.05L931.55,135.92L933.68,136.79L935.80,137.67L937.91,138.56L940.02,139.45L942.12,140.35L944.21,141.25L946.30,142.16L948.39,143.08L950.46,144.00L952.53,144.93L954.59,145.87L956.65,146.82L958.70,147.77L960.74,148.72L962.78,149.69L964.81,150.66L966.83,151.63L968.85,152.62L970.86,153.61L972.86,154.60L974.86,155.61L976.84,156.62L978.83,157.64L980.80,158.66L982.77,159.69L984.73,160.73L986.69,161.78L988.63,162.83L990.58,163.89L992.51,164.95L994.43,166.03L996.35,167.11L998.27,168.20L1000.17,169.29L1002.07,170.39L1003.96,171.50L1005.84,172.62L1007.72,173.74L1009.59,174.87L1011.45,176.01L1013.31,177.15L1015.16,178.31L1017.00,179.46L1018.83,180.63L1020.66,181.80L1022.48,182.98L1024.29,184.17L1026.10,185.36L1027.90,186.56L1029.69,187.77L1031.48,188.98L1033.26,190.20L1035.03,191.43L1036.80,192.66L1038.56,193.90L1040.31,195.15L1042.06,196.40L1043.79,197.67L1045.53,198.93L1047.25,200.21L1048.97,201.49L1050.69,202.77L1052.39,204.07L1054.09,205.37L1055.78,206.67L1057.47,207.99L1059.15,209.31L1060.83,210.63L1062.49,211.96L1064.16,213.30L1065.81,214.65L1067.46,216.00L1069.10,217.36L1070.74,218.72L1072.37,220.09L1073.99,221.47L1075.61,222.85L1077.22,224.24L1078.82,225.63L1080.42,227.03L1082.02,228.44L1083.60,229.85L1085.18,231.27L1086.76,232.70L1088.32,234.13L1089.89,235.57L1091.44,237.01L1092.99,238.46L1094.54,239.92L1096.08,241.38L1097.61,242.85L1099.14,244.32L1100.66,245.80L1102.17,247.28L1103.68,248.77L1105.19,250.27L1106.68,251.77L1108.18,253.28L1109.66,254.79L1111.14,256.31L1112.62,257.84L1114.09,259.37L1115.55,260.90L1117.01,262.45L1118.46,263.99L1119.91,265.55L1121.35,267.10L1122.78,268.67L1124.22,270.24L1125.64,271.81L1127.06,273.39L1128.47,274.98L1129.88,276.57L1131.29,278.17L1132.68,279.77L1134.08,281.38L1135.46,282.99L1136.85,284.61L1138.22,286.23L1139.59,287.86L1140.96,289.49L1142.32,291.13L1143.68,292.77L1145.03,294.42L1146.37,296.08L1147.71,297.74L1149.05,299.40L1150.38,301.07L1151.71,302.75L1153.03,304.42L1154.34,306.11L1155.65,307.80L1156.96,309.49L1158.26,311.19L1159.55,312.90L1160.84,314.61L1162.13,316.32L1163.41,318.04L1164.69,319.76L1165.96,321.49L1167.23,323.22L1168.49,324.96L1169.74,326.70L1171.00,328.45L1172.25,330.20L1173.49,331.96L1174.73,333.72L1175.96,335.49L1177.19,337.26L1178.42,339.03L1179.64,340.81L1180.85,342.60L1182.06,344.38L1183.27,346.18L1184.47,347.97L1185.67,349.78L1186.86,351.58L1188.05,353.39L1189.24,355.21L1190.42,357.03L1191.60,358.85L1192.77,360.68L1193.94,362.51L1195.10,364.35L1196.26,366.19L1197.41,368.03L1198.56,369.88L1199.71,371.74L1200.85,373.59L1201.99,375.45L1203.13,377.32L1204.26,379.19L1205.38,381.06L1206.51,382.94L1207.62,384.82L1208.74,386.71L1209.85,388.60L1210.96,390.49L1212.06,392.39L1213.16,394.29L1214.25,396.19L1215.34,398.10L1216.43,400.01L1217.51,401.93L1218.59,403.85L1219.67,405.77L1220.74,407.70L1221.81,409.63L1222.87,411.57L1223.94,413.51L1224.99,415.45L1226.05,417.40L1227.10,419.34L1228.14,421.30L1229.19,423.25L1230.23,425.21L1231.26,427.18L1232.30,429.15L1233.33,431.12L1234.35,433.09L1235.37,435.07L1236.39,437.05L1237.41,439.03L1238.42,441.02L1239.43,443.01L1240.44,445.00L1241.44,447.00L1242.44,449.00L1243.43,451.01L1244.43,453.01L1245.42,455.02L1246.40,457.04L1247.39,459.05L1248.37,461.07L1249.34,463.10L1250.32,465.12L1251.29,467.15L1252.25,469.18L1253.22,471.22L1254.18,473.26L1255.14,475.30L1256.09,477.34L1257.05,479.39L1258.00,481.44L1258.94,483.50L1259.89,485.55L1260.83,487.61L1261.76,489.67L1262.70,491.74L1263.63,493.81L1264.56,495.88L1265.49,497.95L1266.41,500.03L1267.33,502.10L1268.25,504.19L1269.17,506.27L1270.08,508.36L1270.99,510.45L1271.90,512.54L1272.80,514.64L1273.70,516.73L1274.60,518.83L1275.50,520.94L1276.39,523.04L1277.29,525.15L1278.18,527.26L1279.06,529.37L1279.95,531.49L1280.83,533.61L1281.71,535.73L1282.59,537.85L1283.46,539.97L1284.33,542.10L1285.20,544.23L1286.07,546.36L1286.94,548.50L1287.80,550.64L1288.66,552.78L1289.52,554.92L1290.37,557.06L1291.23,559.21L1292.08,561.35L1292.93,563.51L1293.78,565.66L1294.62,567.81L1295.46,569.97L1296.31,572.13L1297.14,574.29L1297.98,576.45L1298.82,578.62L1299.65,580.78L1300.48,582.95L1301.31,585.12L1302.13,587.30L1302.96,589.47L1303.78,591.65L1304.60,593.83L1305.42,596.01L1306.24,598.19L1307.06,600.38L1307.87,602.56L1308.68,604.75L1309.49,606.94L1310.30,609.13L1311.11,611.33L1311.91,613.52L1312.71,615.72L1313.51,617.92L1314.31,620.12L1315.11,622.32L1315.91,624.52L1316.70,626.73L1317.50,628.93L1318.29,631.14L1319.08,633.35L1319.87,635.56L1320.65,637.78L1321.44,639.99L1322.22,642.21L1323.01,644.42L1323.79,646.64L1324.57,648.86L1325.34,651.08L1326.12,653.31L1326.90,655.53L1327.67,657.76L1328.44,659.98L1329.22,662.21L1329.99,664.44L1330.76,666.67L1331.52,668.90L1332.29,671.14L1333.06,673.37L1333.82,675.61L1334.58,677.84L1335.34,680.08L1336.11,682.32L1336.87,684.56L1337.62,686.80L1338.38,689.05L1339.14,691.29L1339.89,693.53L1340.65,695.78L1341.40,698.02L1342.15,700.27L1342.91,702.52L1343.66,704.77L1344.41,707.02L1345.16,709.27L1345.90,711.52L1346.65,713.77L1347.40,716.03L1348.14,718.28L1348.89,720.54L1349.63,722.79L1350.38,725.05L1351.12,727.31L1351.86,729.56L1352.60,731.82L1353.34,734.08L1354.08,736.34L1354.82,738.60L1355.56,740.86L1356.30,743.12L1357.04,745.39L1357.77,747.65L1358.51,749.91L1359.25,752.18L1359.98,754.44L1360.72,756.70L1361.45,758.97L1362.19,761.24L1362.92,763.50L1363.65,765.77L1364.39,768.03L1365.12,770.30L1365.85,772.57L1366.59,774.84L1367.32,777.10L1368.05,779.37L1368.78,781.64L1369.51,783.91L1370.24,786.18L1370.97,788.45L1371.70,790.72L1372.43,792.99L1373.16,795.26L1373.89,797.53L1374.63,799.80L1375.36,802.07L1376.09,804.34L1376.82,806.61L1377.55,808.87L1378.28,811.14L1379.01,813.41L1379.74,815.68L1380.47,817.95L1381.20,820.22L1381.93,822.49L1382.66,824.76L1383.39,827.03L1384.12,829.30L1384.85,831.57L1385.58,833.84L1386.31,836.11L1387.04,838.37L1387.78,840.64L1388.51,842.91L1389.24,845.18L1389.97,847.44L1390.71,849.71L1391.44,851.98L1392.17,854.24L1392.91,856.51L1393.64,858.77L1394.38,861.04L1395.11,863.30L1395.85,865.57L1396.59,867.83L1397.33,870.09L1398.06,872.35L1398.80,874.61L1399.54,876.88L1400.28,879.14L1401.02,881.40L1401.76,883.65L1402.50,885.91L1403.25,888.17L1403.99,890.43L1404.73,892.68L1405.48,894.94L1406.22,897.19L1406.97,899.45L1407.71,901.70L1408.46,903.95L1409.21,906.20L1409.96,908.45L1410.71,910.70L1411.46,912.95L1412.21,915.20L1412.97,917.45L1413.72,919.69L1414.48,921.94L1415.24,924.18L1416.00,926.42L1416.76,928.66L1417.52,930.89L1418.28,933.13L1419.05,935.36L1419.82,937.59L1420.59,939.82L1421.37,942.05L1422.14,944.27L1422.92,946.49L1423.70,948.71L1424.49,950.92L1425.28,953.14L1426.07,955.35L1426.86,957.55L1427.66,959.75L1428.46,961.95L1429.26,964.15L1430.07,966.34L1430.88,968.53L1431.70,970.71L1432.52,972.90L1433.34,975.07L1434.17,977.24L1435.00,979.41L1435.83,981.58L1436.67,983.74L1437.52,985.89L1438.37,988.04L1439.22,990.19L1440.08,992.33L1440.95,994.46L1441.82,996.59L1442.69,998.72L1443.57,1000.83L1444.46,1002.95L1445.35,1005.06L1446.25,1007.16L1447.15,1009.26L1448.06,1011.35L1448.98,1013.43L1449.90,1015.51L1450.83,1017.58L1451.76,1019.65L1452.70,1021.71L1453.65,1023.76L1454.60,1025.81L1455.56,1027.85L1456.53,1029.88L1457.50,1031.91L1458.48,1033.92L1459.47,1035.93L1460.47,1037.94L1461.47,1039.94L1462.48,1041.92L1463.50,1043.90L1464.53,1045.88L1465.56,1047.84L1466.61,1049.80L1467.66,1051.75L1468.71,1053.69L1469.78,1055.62L1470.86,1057.55L1471.94,1059.46L1473.03,1061.37L1474.14,1063.27L1475.25,1065.16L1476.37,1067.04L1477.50,1068.91L1478.63,1070.77L1479.78,1072.62L1480.94,1074.47L1482.10,1076.30L1483.28,1078.13L1484.46,1079.94L1485.66,1081.74L1486.87,1083.54L1488.08,1085.32L1489.31,1087.10L1490.54,1088.86L1491.79,1090.61L1493.05,1092.36L1494.32,1094.09L1495.61,1095.80L1496.91,1097.49L1498.24,1099.16L1499.59,1100.81L1500.98,1102.43L1502.39,1104.01L1503.84,1105.56L1505.32,1107.08L1506.85,1108.55L1508.42,1109.98L1510.03,1111.37L1511.70,1112.70L1513.42,1113.99L1515.19,1115.21L1517.02,1116.38L1518.91,1117.49L1520.86,1118.54L1522.89,1119.51L1524.98,1120.42L1527.15,1121.25L1529.39,1122.01L1531.71,1122.69L1534.11,1123.29L1536.60,1123.80L1539.18,1124.22L1541.85,1124.55L1545.00,1124.40L1660.00,1124.40" stroke="#8000ff"/>
<path d="M226.50,45.09L229.68,45.22L232.56,45.34L235.43,45.47L238.31,45.59L241.18,45.72L244.06,45.84L246.94,45.96L249.81,46.08L252.69,46.20L255.57,46.32L258.45,46.44L261.33,46.56L264.21,46.68L267.10,46.79L269.98,46.91L272.86,47.03L275.75,47.14L278.63,47.26L281.51,47.37L284.40,47.49L287.28,47.60L290.17,47.72L293.05,47.83L295.94,47.94L298.83,48.06L301.71,48.17L304.60,48.28L307.49,48.40L310.37,48.51L313.26,48.62L316.15,48.73L319.03,48.85L321.92,48.96L324.81,49.07L327.69,49.18L330.58,49.30L333.47,49.41L336.35,49.52L339.24,49.64L342.13,49.75L345.01,49.86L347.90,49.98L350.78,50.09L353.67,50.21L356.55,50.32L359.43,50.44L362.32,50.55L365.20,50.67L368.08,50.79L370.96,50.90L373.84,51.02L376.72,51.14L379.60,51.26L382.48,51.38L385.36,51.50L388.24,51.62L391.12,51.75L393.99,51.87L396.87,52.00L399.74,52.12L402.61,52.25L405.49,52.37L408.36,52.50L411.23,52.63L414.10,52.76L416.97,52.89L419.83,53.02L422.70,53.16L425.56,53.29L428.43,53.43L431.29,53.56L434.15,53.70L437.01,53.84L439.87,53.98L442.73,54.12L445.59,54.27L448.44,54.41L451.29,54.56L454.14,54.70L456.99,54.85L459.84,55.00L462.69,55.16L465.54,55.31L468.38,55.47L471.22,55.62L474.06,55.78L476.90,55.94L479.74,56.10L482.57,56.27L485.41,56.43L488.24,56.60L491.07,56.77L493.90,56.94L496.72,57.12L499.55,57.29L502.37,57.47L505.19,57.65L508.01,57.83L510.82,58.01L513.64,58.20L516.45,58.39L519.26,58.58L522.06,58.77L524.87,58.96L527.67,59.16L530.47,59.36L533.27,59.56L536.07,59.76L538.86,59.97L541.65,60.18L544.44,60.39L547.22,60.60L550.01,60.82L552.79,61.04L555.57,61.26L558.34,61.48L561.11,61.71L563.88,61.94L566.65,62.17L569.42,62.41L572.18,62.64L574.94,62.88L577.69,63.13L580.45,63.37L583.20,63.62L585.94,63.87L588.69,64.13L591.43,64.39L594.17,64.65L596.90,64.91L599.64,65.18L602.36,65.45L605.09,65.72L607.81,66.00L610.53,66.28L613.25,66.56L615.96,66.85L618.67,67.14L621.38,67.43L624.08,67.73L626.78,68.03L629.48,68.33L632.17,68.64L634.86,68.95L637.54,69.26L640.23,69.58L642.91,69.90L645.58,70.22L648.25,70.55L650.92,70.88L653.58,71.22L656.24,71.56L658.90,71.90L661.55,72.25L664.20,72.60L666.84,72.95L669.49,73.31L672.12,73.68L674.76,74.04L677.38,74.41L680.01,74.79L682.63,75.17L685.25,75.55L687.86,75.93L690.47,76.33L693.07,76.72L695.67,77.12L698.27,77.52L700.86,77.93L703.45,78.34L706.03,78.76L708.61,79.18L711.18,79.61L713.75,80.04L716.32,80.47L718.88,80.91L721.43,81.35L723.98,81.80L726.53,82.25L729.07,82.71L731.61,83.17L734.14,83.64L736.67,84.11L739.19,84.59L741.71,85.07L744.23,85.55L746.74,86.04L749.24,86.54L751.74,87.04L754.23,87.54L756.72,88.05L759.21,88.57L761.69,89.09L764.16,89.61L766.63,90.14L769.09,90.68L771.55,91.22L774.00,91.77L776.45,92.32L778.90,92.87L781.33,93.44L783.77,94.00L786.19,94.58L788.61,95.15L791.03,95.74L793.44,96.32L795.85,96.92L798.25,97.52L800.64,98.12L803.03,98.73L805.41,99.35L807.79,99.97L810.16,100.60L812.53,101.23L814.89,101.87L817.24,102.52L819.59,103.17L821.94,103.82L824.27,104.48L826.60,105.15L828.93,105.83L831.25,106.51L833.56,107.19L835.87,107.88L838.17,108.58L840.47,109.29L842.76,110.00L845.04,110.71L847.32,111.43L849.59,112.16L851.85,112.90L854.11,113.64L856.36,114.39L858.61,115.14L860.85,115.90L863.08,116.67L865.31,117.44L867.53,118.22L869.74,119.00L871.95,119.80L874.15,120.60L876.34,121.40L878.53,122.21L880.71,123.03L882.88,123.86L885.05,124.69L887.21,125.53L889.37,126.37L891.51,127.22L893.65,128.08L895.79,128.95L897.91,129.82L900.03,130.70L902.15,131.59L904.25,132.48L906.35,133.38L908.44,134.29L910.53,135.21L912.60,136.13L914.68,137.06L916.74,137.99L918.79,138.94L920.84,139.89L922.88,140.84L924.92,141.81L926.95,142.78L928.97,143.76L930.98,144.75L932.98,145.74L934.98,146.75L936.97,147.76L938.95,148.77L940.93,149.80L942.89,150.83L944.85,151.87L946.80,152.92L948.75,153.97L950.69,155.03L952.61,156.10L954.54,157.18L956.45,158.27L958.35,159.36L960.25,160.46L962.14,161.57L964.02,162.69L965.90,163.82L967.76,164.95L969.62,166.09L971.47,167.24L973.31,168.40L975.15,169.56L976.98,170.73L978.80,171.91L980.61,173.10L982.41,174.30L984.21,175.50L986.00,176.71L987.78,177.93L989.55,179.15L991.32,180.39L993.08,181.63L994.83,182.88L996.57,184.13L998.31,185.40L1000.04,186.67L1001.76,187.94L1003.47,189.23L1005.18,190.52L1006.88,191.82L1008.57,193.13L1010.26,194.44L1011.94,195.76L1013.61,197.09L1015.27,198.43L1016.93,199.77L1018.58,201.12L1020.22,202.47L1021.86,203.84L1023.48,205.21L1025.11,206.59L1026.72,207.97L1028.33,209.36L1029.93,210.76L1031.52,212.16L1033.11,213.58L1034.69,215.00L1036.27,216.42L1037.83,217.85L1039.40,219.29L1040.95,220.74L1042.50,222.19L1044.04,223.65L1045.57,225.11L1047.10,226.58L1048.62,228.06L1050.14,229.55L1051.64,231.04L1053.15,232.53L1054.64,234.04L1056.13,235.55L1057.61,237.07L1059.09,238.59L1060.56,240.12L1062.02,241.65L1063.48,243.20L1064.93,244.74L1066.38,246.30L1067.82,247.86L1069.25,249.42L1070.68,251.00L1072.10,252.57L1073.51,254.16L1074.92,255.75L1076.32,257.35L1077.72,258.95L1079.11,260.56L1080.50,262.17L1081.88,263.79L1083.25,265.42L1084.62,267.05L1085.98,268.69L1087.34,270.33L1088.69,271.98L1090.03,273.63L1091.37,275.29L1092.70,276.96L1094.03,278.63L1095.35,280.31L1096.67,281.99L1097.98,283.68L1099.29,285.37L1100.59,287.07L1101.88,288.77L1103.17,290.48L1104.46,292.20L1105.74,293.92L1107.01,295.65L1108.28,297.38L1109.54,299.11L1110.80,300.85L1112.05,302.60L1113.30,304.35L1114.54,306.11L1115.78,307.87L1117.01,309.64L1118.24,311.41L1119.46,313.19L1120.68,314.97L1121.89,316.76L1123.10,318.55L1124.30,320.35L1125.49,322.15L1126.69,323.96L1127.87,325.77L1129.06,327.59L1130.24,329.41L1131.41,331.23L1132.58,333.06L1133.74,334.90L1134.90,336.74L1136.05,338.59L1137.20,340.43L1138.35,342.29L1139.49,344.15L1140.63,346.01L1141.76,347.88L1142.89,349.75L1144.01,351.63L1145.13,353.51L1146.24,355.39L1147.35,357.28L1148.46,359.17L1149.56,361.07L1150.66,362.97L1151.75,364.88L1152.84,366.79L1153.92,368.71L1155.00,370.63L1156.08,372.55L1157.15,374.48L1158.22,376.41L1159.28,378.34L1160.34,380.28L1161.40,382.22L1162.45,384.17L1163.50,386.12L1164.55,388.08L1165.59,390.04L1166.62,392.00L1167.66,393.97L1168.68,395.94L1169.71,397.91L1170.73,399.89L1171.75,401.87L1172.76,403.85L1173.77,405.84L1174.78,407.83L1175.79,409.83L1176.79,411.83L1177.78,413.83L1178.78,415.84L1179.76,417.85L1180.75,419.86L1181.73,421.88L1182.71,423.90L1183.69,425.92L1184.66,427.95L1185.63,429.98L1186.60,432.01L1187.56,434.05L1188.52,436.09L1189.48,438.13L1190.43,440.18L1191.38,442.23L1192.33,444.28L1193.27,446.34L1194.21,448.39L1195.15,450.46L1196.08,452.52L1197.01,454.59L1197.94,456.66L1198.86,458.74L1199.79,460.81L1200.70,462.89L1201.62,464.98L1202.53,467.06L1203.44,469.15L1204.35,471.25L1205.25,473.34L1206.16,475.44L1207.05,477.54L1207.95,479.65L1208.84,481.75L1209.73,483.86L1210.62,485.97L1211.50,488.09L1212.38,490.21L1213.26,492.33L1214.14,494.45L1215.01,496.58L1215.88,498.71L1216.75,500.84L1217.61,502.97L1218.47,505.11L1219.33,507.25L1220.19,509.39L1221.04,511.54L1221.90,513.69L1222.75,515.84L1223.59,517.99L1224.44,520.15L1225.28,522.30L1226.12,524.46L1226.95,526.63L1227.79,528.79L1228.62,530.96L1229.45,533.13L1230.28,535.30L1231.10,537.48L1231.92,539.65L1232.74,541.83L1233.56,544.01L1234.38,546.20L1235.19,548.38L1236.00,550.57L1236.81,552.76L1237.61,554.96L1238.42,557.15L1239.22,559.35L1240.02,561.55L1240.82,563.75L1241.61,565.96L1242.40,568.16L1243.20,570.37L1243.99,572.58L1244.77,574.79L1245.56,577.01L1246.34,579.22L1247.12,581.44L1247.90,583.66L1248.68,585.89L1249.45,588.11L1250.22,590.34L1251.00,592.56L1251.76,594.79L1252.53,597.03L1253.30,599.26L1254.06,601.50L1254.82,603.73L1255.58,605.97L1256.34,608.21L1257.10,610.46L1257.85,612.70L1258.61,614.95L1259.36,617.20L1260.11,619.45L1260.85,621.70L1261.60,623.95L1262.34,626.21L1263.09,628.46L1263.83,630.72L1264.57,632.98L1265.31,635.24L1266.04,637.50L1266.78,639.77L1267.51,642.03L1268.24,644.30L1268.97,646.57L1269.70,648.84L1270.43,651.11L1271.16,653.38L1271.88,655.66L1272.61,657.94L1273.33,660.21L1274.05,662.49L1274.77,664.77L1275.49,667.05L1276.20,669.33L1276.92,671.62L1277.63,673.90L1278.35,676.19L1279.06,678.48L1279.77,680.77L1280.48,683.06L1281.19,685.35L1281.89,687.64L1282.60,689.93L1283.31,692.23L1284.01,694.52L1284.71,696.82L1285.41,699.12L1286.12,701.41L1286.81,703.71L1287.51,706.01L1288.21,708.32L1288.91,710.62L1289.60,712.92L1290.30,715.23L1290.99,717.53L1291.69,719.84L1292.38,722.14L1293.07,724.45L1293.76,726.76L1294.45,729.07L1295.14,731.38L1295.83,733.69L1296.52,736.00L1297.20,738.32L1297.89,740.63L1298.57,742.94L1299.26,745.26L1299.94,747.57L1300.63,749.89L1301.31,752.21L1301.99,754.52L1302.67,756.84L1303.35,759.16L1304.03,761.48L1304.71,763.80L1305.39,766.12L1306.07,768.44L1306.75,770.76L1307.43,773.08L1308.11,775.40L1308.78,777.72L1309.46,780.05L1310.14,782.37L1310.81,784.69L1311.49,787.02L1312.16,789.34L1312.84,791.67L1313.51,793.99L1314.19,796.32L1314.86,798.64L1315.53,800.97L1316.21,803.29L1316.88,805.62L1317.56,807.94L1318.23,810.27L1318.90,812.60L1319.57,814.92L1320.25,817.25L1320.92,819.58L1321.59,821.90L1322.26,824.23L1322.94,826.56L1323.61,828.88L1324.28,831.21L1324.95,833.54L1325.63,835.86L1326.30,838.19L1326.97,840.52L1327.64,842.84L1328.32,845.17L1328.99,847.50L1329.66,849.82L1330.34,852.15L1331.01,854.48L1331.68,856.80L1332.36,859.13L1333.03,861.45L1333.71,863.78L1334.38,866.10L1335.06,868.43L1335.73,870.75L1336.41,873.07L1337.08,875.40L1337.76,877.72L1338.44,880.04L1339.11,882.36L1339.79,884.69L1340.47,887.01L1341.15,889.33L1341.83,891.65L1342.51,893.97L1343.19,896.29L1343.87,898.61L1344.55,900.93L1345.23,903.24L1345.91,905.56L1346.59,907.88L1347.28,910.19L1347.96,912.51L1348.65,914.82L1349.33,917.13L1350.02,919.45L1350.71,921.76L1351.40,924.07L1352.09,926.38L1352.78,928.68L1353.48,930.99L1354.17,933.29L1354.87,935.59L1355.57,937.89L1356.28,940.18L1356.98,942.48L1357.69,944.77L1358.40,947.06L1359.11,949.34L1359.83,951.63L1360.55,953.91L1361.27,956.18L1362.00,958.46L1362.73,960.73L1363.46,962.99L1364.20,965.26L1364.94,967.52L1365.68,969.77L1366.43,972.02L1367.18,974.27L1367.94,976.51L1368.70,978.75L1369.47,980.98L1370.24,983.21L1371.02,985.43L1371.80,987.65L1372.58,989.86L1373.37,992.07L1374.17,994.28L1374.97,996.47L1375.78,998.66L1376.59,1000.85L1377.41,1003.03L1378.24,1005.20L1379.07,1007.37L1379.91,1009.53L1380.75,1011.69L1381.60,1013.84L1382.46,1015.98L1383.33,1018.11L1384.20,1020.24L1385.08,1022.36L1385.96,1024.48L1386.86,1026.58L1387.76,1028.68L1388.66,1030.77L1389.58,1032.86L1390.50,1034.93L1391.44,1037.00L1392.37,1039.06L1393.32,1041.11L1394.28,1043.15L1395.24,1045.19L1396.22,1047.21L1397.20,1049.23L1398.19,1051.24L1399.19,1053.24L1400.20,1055.23L1401.22,1057.21L1402.25,1059.18L1403.28,1061.14L1404.33,1063.09L1405.39,1065.04L1406.46,1066.97L1407.53,1068.89L1408.62,1070.80L1409.72,1072.70L1410.83,1074.59L1411.96,1076.46L1413.09,1078.33L1414.25,1080.17L1415.41,1082.01L1416.59,1083.83L1417.78,1085.63L1419.00,1087.42L1420.22,1089.19L1421.47,1090.95L1422.73,1092.69L1424.00,1094.41L1425.30,1096.11L1426.62,1097.80L1427.95,1099.46L1429.31,1101.10L1430.68,1102.73L1432.08,1104.33L1433.50,1105.91L1434.94,1107.47L1436.40,1109.01L1437.89,1110.52L1439.39,1112.01L1440.93,1113.48L1442.49,1114.92L1444.07,1116.34L1445.68,1117.73L1447.31,1119.09L1448.98,1120.43L1450.66,1121.74L1452.38,1123.02L1454.13,1124.27L1455.90,1125.50L1460.00,1124.40L1660.00,1124.40" stroke="#800080"/>
</g>
<path d="M227.4,585.5H1653.5" stroke="#ff0000" stroke-width="9" stroke-linecap="round" fill="none"/>
<rect x="256.5" y="600.5" width="297" height="488" fill="#fff" stroke="#000" stroke-width="3"/>
<path d="M263.6,635.5H379" stroke="#000000" stroke-width="9" stroke-linecap="round"/>
<text y="652.8" font-size="50"><tspan x="395.6" font-style="italic">R</tspan> <tspan x="446.6">=</tspan> <tspan x="490.5">0</tspan></text>
<path d="M263.6,695.5H379" stroke="#ff0000" stroke-width="9" stroke-linecap="round"/>
<text y="712.8" font-size="50"><tspan x="395.6" font-style="italic">R</tspan> <tspan x="446.6">=</tspan> <tspan x="490.5">10</tspan></text>
<path d="M263.6,755.5H379" stroke="#0000ff" stroke-width="9" stroke-linecap="round"/>
<text y="772.8" font-size="50"><tspan x="395.6" font-style="italic">R</tspan> <tspan x="446.6">=</tspan> <tspan x="490.5">20</tspan></text>
<path d="M263.6,815.5H379" stroke="#ff00ff" stroke-width="9" stroke-linecap="round"/>
<text y="832.8" font-size="50"><tspan x="395.6" font-style="italic">R</tspan> <tspan x="446.6">=</tspan> <tspan x="490.5">30</tspan></text>
<path d="M263.6,875.5H379" stroke="#008000" stroke-width="9" stroke-linecap="round"/>
<text y="892.8" font-size="50"><tspan x="395.6" font-style="italic">R</tspan> <tspan x="446.6">=</tspan> <tspan x="490.5">40</tspan></text>
<path d="M263.6,935.5H379" stroke="#000080" stroke-width="9" stroke-linecap="round"/>
<text y="952.8" font-size="50"><tspan x="395.6" font-style="italic">R</tspan> <tspan x="446.6">=</tspan> <tspan x="490.5">50</tspan></text>
<path d="M263.6,995.5H379" stroke="#8000ff" stroke-width="9" stroke-linecap="round"/>
<text y="1012.8" font-size="50"><tspan x="395.6" font-style="italic">R</tspan> <tspan x="446.6">=</tspan> <tspan x="490.5">60</tspan></text>
<path d="M263.6,1055.5H379" stroke="#800080" stroke-width="9" stroke-linecap="round"/>
<text y="1072.8" font-size="50"><tspan x="395.6" font-style="italic">R</tspan> <tspan x="446.6">=</tspan> <tspan x="490.5">70</tspan></text>
<text x="188.85" y="1139.10" font-size="52.5" text-anchor="end">0.0</text>
<text x="188.85" y="1030.86" font-size="52.5" text-anchor="end">0.1</text>
<text x="188.85" y="922.62" font-size="52.5" text-anchor="end">0.2</text>
<text x="188.85" y="814.38" font-size="52.5" text-anchor="end">0.3</text>
<text x="188.85" y="706.14" font-size="52.5" text-anchor="end">0.4</text>
<text x="188.85" y="597.90" font-size="52.5" text-anchor="end">0.5</text>
<text x="188.85" y="489.66" font-size="52.5" text-anchor="end">0.6</text>
<text x="188.85" y="381.42" font-size="52.5" text-anchor="end">0.7</text>
<text x="188.85" y="273.18" font-size="52.5" text-anchor="end">0.8</text>
<text x="188.85" y="164.94" font-size="52.5" text-anchor="end">0.9</text>
<text x="188.85" y="56.70" font-size="52.5" text-anchor="end">1.0</text>
<text x="369.88" y="1199.5" font-size="52.5" text-anchor="middle" letter-spacing="1.7">500</text>
<text x="654.62" y="1199.5" font-size="52.5" text-anchor="middle" letter-spacing="1.7">600</text>
<text x="939.38" y="1199.5" font-size="52.5" text-anchor="middle" letter-spacing="1.7">700</text>
<text x="1224.12" y="1199.5" font-size="52.5" text-anchor="middle" letter-spacing="1.7">800</text>
<text x="1508.88" y="1199.5" font-size="52.5" text-anchor="middle" letter-spacing="1.7">900</text>
<text x="939" y="1264.2" font-size="52" text-anchor="middle" letter-spacing="1.5">wavelength (nm)</text>
<text transform="translate(58,594) rotate(-90)" font-size="52" text-anchor="middle">direct absorptance</text>
</svg></body></html>
